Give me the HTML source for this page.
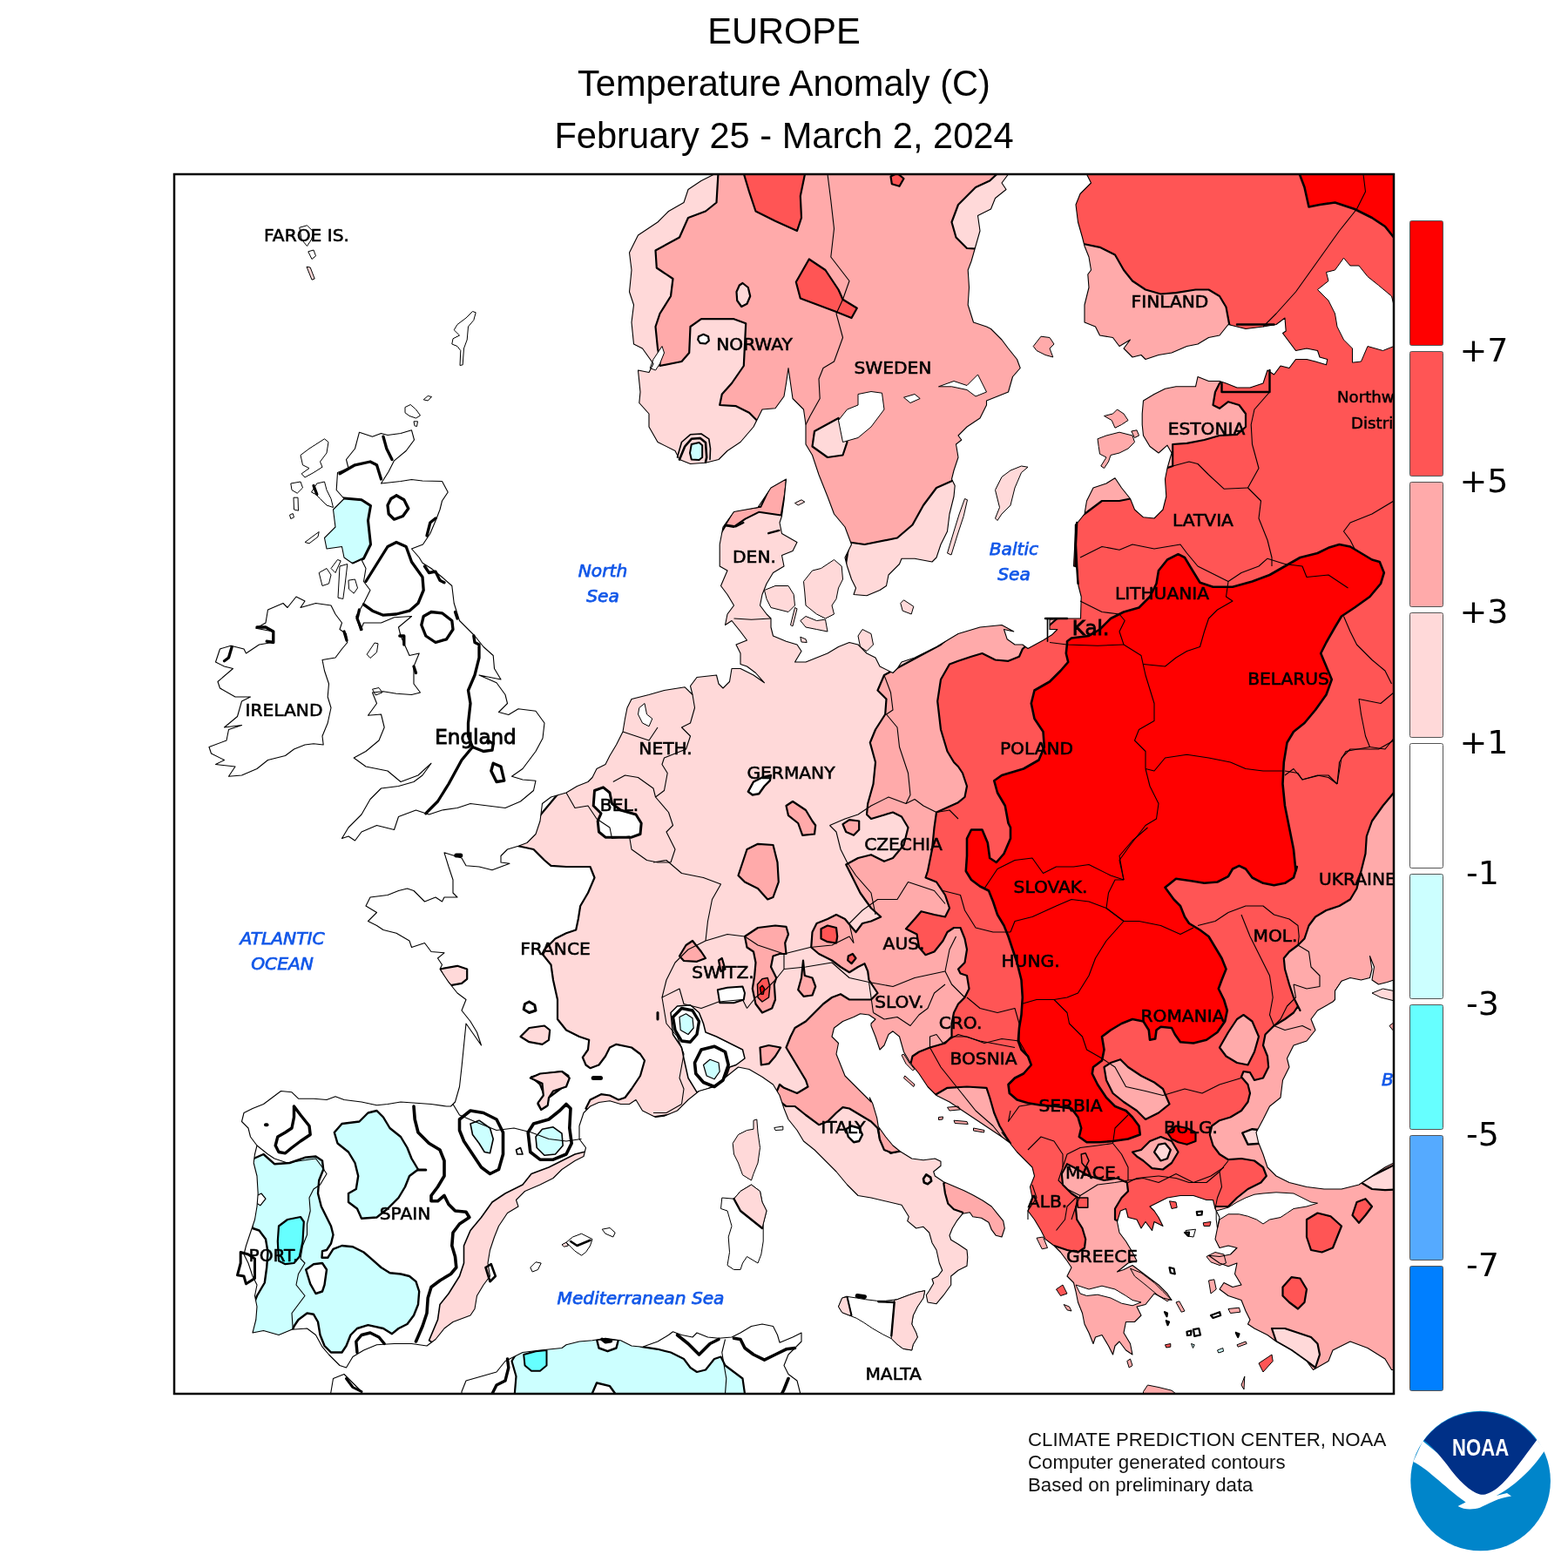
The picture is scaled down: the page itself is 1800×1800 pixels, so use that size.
<!DOCTYPE html>
<html lang="en"><head><meta charset="utf-8"><title>EUROPE Temperature Anomaly (C)</title>
<style>
html,body{margin:0;padding:0;background:#fff}
body{width:1800px;height:1800px;overflow:hidden;position:relative;font-family:"Liberation Sans",sans-serif}
svg{position:absolute;left:0;top:0;display:block}
.t{font-family:"Liberation Sans",sans-serif;font-size:41.6px;fill:#000;text-anchor:middle}
.lg{font-family:"DejaVu Sans","Liberation Sans",sans-serif;font-size:38px;fill:#000}
.c{font-family:"DejaVu Sans","Liberation Sans",sans-serif;font-size:20.2px;fill:#000;stroke:#000;stroke-width:0.6px;text-anchor:middle}
.e{font-family:"DejaVu Sans","Liberation Sans",sans-serif;font-size:23px;fill:#000;stroke:#000;stroke-width:0.9px;text-anchor:middle}
.s{font-family:"DejaVu Sans","Liberation Sans",sans-serif;font-style:italic;font-size:20.2px;fill:#1257e8;stroke:#1257e8;stroke-width:0.75px;text-anchor:middle}
.d{font-family:"DejaVu Sans","Liberation Sans",sans-serif;font-size:18.2px;fill:#000;stroke:#000;stroke-width:0.5px;text-anchor:middle}
.l{text-anchor:start}
.f{font-family:"Liberation Sans",sans-serif;font-size:22.25px;fill:#111}
.n{font-family:"Liberation Sans",sans-serif;font-weight:bold;font-size:28px;fill:#fff;text-anchor:middle}
</style></head><body>
<svg width="1800" height="1800" viewBox="0 0 1800 1800">
<rect width="1800" height="1800" fill="#fff"/>

<defs><clipPath id="fr"><rect x="200" y="200" width="1400" height="1400"/></clipPath>
<clipPath id="ld" clip-rule="nonzero">
<path d="M412.5,496.2 427.5,501.2 437.5,497.5 445,499.5 460,497.5 472.5,493.8 475.5,505 466.2,517.5 452.5,528.8 446.2,541.2 437.5,555 460,552.5 472.5,550.5 485,552 507.5,552.5 514.2,565 507.5,575 505,585 501.2,595 493.8,612.5 485.5,625 472.5,630 481.2,640 485,646.2 495,652.5 507.5,662.5 518.8,672.5 521.2,692.5 527.5,712.5 545,730 555,742.5 566.2,752.5 567.5,767.5 575,780 550,775 570,783.8 580,797.5 582.5,807.5 572.5,817.5 583.8,820.5 595,813.8 615,816.2 625,830 623,847.5 615,862.5 607.5,872.5 600,882.5 587.5,891.2 600,895 615,896.2 612.5,907.5 597.5,920 580,927.5 560,925 540,922.5 525,927.5 507.5,930 492.5,935 477.5,930 457.5,937.5 452.5,952.5 432.5,947.5 415,955 407.5,965 400,960 392.5,962.5 400,950 415,935 425,917.5 437.5,905 457.5,902.5 475,897.5 485,890 495,876.2 480,890 460,897.5 445,885 420,880 406.2,870 420,862.5 435,850 441.2,835 437.5,820 422.5,821.2 432.5,807.5 427.5,795 440,793.8 455,796.2 472.5,797.5 482.5,795 475,785 475,765 481.2,750 470,752.5 460,730 457.5,720 472.5,707.5 452.5,708.8 437.5,715 417.5,715 413.8,723.8 408.8,707.5 417.5,692.5 425,677.5 417.5,667.5 420,652.5 415,642.5 405,647 395,640 392.5,627.5 375,630 372.5,617.5 385,605 382.5,585 395,572.5 386.2,562.5 387.5,542.5 400,537.5 397.5,527.5 407.5,515Z"/>
<path d="M340,685 350,690 345,697.5 362.5,692.5 380,695 385,705 392.5,715 390,722.5 397.5,727.5 398.8,737.5 392.5,745 385,755 370,757.5 372.5,770 377.5,785 376.2,800 380,812.5 376.2,830 370,845 371.2,855 360,853.8 350,855 337.5,860 327.5,867.5 307.5,872.5 295,882.5 277.5,890 262.5,891.2 270,880 247.5,877.5 257.5,872.5 242.5,865 240,857.5 260,850 262.5,837.5 277.5,832.5 257.5,835 272.5,822.5 277.5,805 287.5,800 270,800 252.5,790 250,782.5 267.5,767.5 257.5,765 247.5,760 252.5,745 265,741.2 280,745 282.5,750 297.5,740 312.5,737.5 313.8,725 293.8,721.2 305,715 307.5,700 325,692.5 330,697.5Z"/>
<path d="M820,190 820,200 805,207.5 790,217.5 785,232.5 767.5,242.5 755,255 732.5,270 722.5,290 725,310 722.5,335 727.5,350 725,370 727.5,395 737.5,400 750,417.5 745,427.5 732.5,425 735,450 733.8,462.5 745,475 745,490 755,507.5 775,517.5 780,527.5 792.5,532.5 810,531.2 825,527.5 835,517.5 850,507.5 865,490 875,470 890,468.8 900,455 902.5,440 905,422.5 907.5,440 910,457.5 922.5,470 925,487.5 925,510 932.5,522.5 940,545 950,570 957.5,590 970,605 977.5,625 970,640 972.5,650 977.5,665 982.5,675 980,682.5 995,683.8 1010,677.5 1017.5,672.5 1020,660 1032.5,647.5 1035,641.2 1050,641.2 1070,645 1075,640 1080,625 1087.5,610 1090,590 1095,570 1096.2,557.5 1092.5,550 1095,540 1100,525 1097.5,510 1103.8,505 1100,500 1110,490 1125,480 1132.5,465 1132.5,460 1145,455 1157.5,450 1162.5,432.5 1171.2,422.5 1167.5,412.5 1157.5,400 1150,390 1137.5,377.5 1132.5,375 1117.5,370 1111.2,350 1112.5,330 1111.2,310 1115,300 1120,282.5 1125,265 1122.5,247.5 1137.5,240 1142.5,227.5 1155,217.5 1150,210 1157.5,200 1157,190Z"/>
<path d="M1247,190 1247.5,200 1252.5,210 1240,222.5 1235,235 1237.5,255 1242.5,272.5 1245,282.5 1250,295 1252.5,310 1248.8,315 1250,330 1245,350 1245,370 1257.5,375 1262.5,385 1277.5,387.5 1285,397.5 1297.5,390 1290,400 1300,410 1310,407.5 1315,412.5 1330,407.5 1345,405 1362.5,397.5 1375,395 1387.5,387.5 1400,385 1410,372.5 1420,375 1430,377.5 1450,375 1465,372.5 1475,365 1476.2,380 1472.5,382.5 1480,392.5 1487.5,402.5 1500,400 1512.5,402.5 1515,410 1523.8,412.5 1522.5,418.8 1510,415 1500,412.5 1487.5,412.5 1480,422.5 1470,420 1462.5,430 1455,425 1450,440 1435,445 1420,445 1407.5,440 1400,437.5 1387.5,437.5 1375,432.5 1372.5,443.8 1350,443.8 1337.5,446.2 1325,452.5 1312.5,460 1311.2,475 1311.2,487.5 1312.5,500 1320,512.5 1330,520 1340,511.2 1345,520 1340,537.5 1337.5,550 1338.8,570 1335,585 1325,595 1312.5,593.8 1302.5,585 1297.5,572.5 1287.5,560 1280,548.8 1270,555 1255,560 1247.5,575 1245,590 1235,602.5 1233.8,625 1232.5,650 1236.2,650 1238,672.5 1241.2,685 1240.5,710 1225,710 1205,711.2 1205,722.5 1213.8,722.5 1207.5,728.8 1197.5,735 1180,744.5 1173.8,740 1165,740 1156.2,733.8 1152.5,722.5 1163.8,725 1150,717.5 1125,720 1100,727.5 1087.5,735 1075,742.5 1050,755 1035,760 1030,767.5 1025,772.5 1010,765 1005,755 995,750 985,740 975,737.5 962.5,742.5 950,750 937.5,755 925,760 912.5,760 920,747.5 915,740 902.5,736.2 887.5,730 885,720 885,710 880,705 872.5,695 875,682.5 880,670 887.5,657.5 900,650 897.5,637.5 910,632.5 915,622.5 897.5,612.5 895,600 897.5,592.5 900,575 902.5,550 885,560 870,582.5 842.5,587.5 830,605 826.2,625 826.2,650 835,655 827.5,672.5 835,682.5 842.5,695 835,705 832.5,717.5 840,712.5 850,725 857.5,735 845,740 850,750 850,762.5 857.5,765 867.5,772.5 877.5,783.8 865,775 850,767.5 840,767.5 837.5,782.5 830,790 825,785 822.5,775 800,777.5 792.5,787.5 795,797.5 786.2,788.8 762.5,792.5 745,797.5 725,802.5 720,812.5 717.5,825 715,840 707.5,855 700,867.5 695,877.5 685,882.5 680,892.5 675,897.5 662.5,902.5 650,910 632.5,915 622.5,922.5 620,942.5 615,957.5 605,967.5 595,971.2 582.5,975 575,982.5 575,990 585,991.2 565,998.8 550,995 535,993.8 530,985 510,978.8 515,995 520,1010 520,1025 525,1030 510,1030 507.5,1035 500,1030 487.5,1035 475,1022.5 467.5,1020 457.5,1022.5 445,1027.5 425,1030 420,1040 432.5,1047.5 422.5,1057.5 432.5,1062.5 440,1067.5 455,1071.2 470,1080 472.5,1087.5 487.5,1082.5 495,1092.5 510,1093.8 502.5,1100 507.5,1107.5 505,1112.5 515,1127.5 525,1140 535,1147.5 530,1160 540,1172.5 547.5,1185 552.5,1200 535,1175 532.5,1200 530,1225 527.5,1247.5 522.5,1265 517.5,1270 512.5,1270 495,1267.5 477.5,1266.2 460,1265 445,1267.5 432.5,1268.8 415,1265 395,1262.5 385,1258.8 375,1262.5 360,1261.2 342.5,1261.2 335,1253.8 322.5,1252.5 312.5,1260 302.5,1267.5 290,1272.5 280,1277.5 277.5,1287.5 285,1295 287.5,1305 295,1315 292.5,1325 291.2,1335 295,1350 296.2,1370 295,1385 292.5,1400 287.5,1415 282.5,1430 280,1440 285,1450 290,1465 295,1475 292.5,1487.5 295,1500 293.8,1515 290,1530 302.5,1527.5 320,1532.5 335,1526.2 352.5,1525 362.5,1532.5 370,1546.2 377.5,1555 390,1567.5 397.5,1570 405,1557.5 417.5,1550 432.5,1543.8 452.5,1542.5 472.5,1542.5 490,1545 500,1537.5 510,1525 520,1517.5 540,1510 545,1502.5 547.5,1487.5 555,1475 562.5,1465 560,1450 562.5,1435 567.5,1420 572.5,1407.5 582.5,1392.5 595,1385 592.5,1377.5 602.5,1367.5 620,1360 635,1352.5 645,1342.5 660,1332.5 670,1327.5 672.5,1317.5 665,1307.5 665,1292.5 670,1277.5 677.5,1270 687.5,1265.5 700,1263.8 712.5,1267.5 722.5,1267.5 730,1262.5 737.5,1275 752.5,1282.5 762.5,1281.2 777.5,1275 790,1262.5 802.5,1252.5 820,1247.5 835,1235 847.5,1225 860,1227.5 875,1236.2 887.5,1245 895,1257.5 900,1272.5 905,1285 915,1297.5 922.5,1310 935,1320 947.5,1332.5 960,1345 972.5,1360 985,1372.5 1000,1375 1035,1383.3 1043.3,1396.7 1041.7,1401.7 1051.7,1410 1060,1408.3 1066.7,1415 1070,1426.7 1075,1435 1078.3,1450 1081.7,1458.3 1076.7,1465 1070,1468.3 1071.7,1473.3 1066.7,1481.7 1063.3,1486.7 1065,1495 1075,1496.7 1083.3,1486.7 1091.7,1475 1091.7,1465 1100,1458.3 1110,1453.3 1110.8,1443.3 1110,1435 1100,1428.3 1091.7,1423.3 1090,1418.3 1093.3,1410 1098.3,1401.7 1105,1393.3 1113.3,1391.7 1116.7,1396.7 1126.7,1398.3 1135,1403.3 1138.3,1411.7 1143.3,1418.3 1150,1420 1153.3,1410 1151.7,1401.7 1145,1393.3 1138.3,1385 1128.3,1378.3 1116.7,1371.7 1106.7,1366.7 1095,1361.7 1083.3,1356.7 1073.3,1350 1071.7,1345 1080,1338.3 1080,1333.3 1073.3,1330 1060,1331.7 1046.7,1330 1033.3,1321.7 1025,1315 1016.7,1305 1008.3,1293.3 1006.7,1283.3 1001.7,1266.7 998.3,1260 1000,1265 990,1255 980,1245 970,1235 965,1222.5 960,1210 962.5,1197.5 955,1190 957.5,1180 967.5,1172.5 980,1167.5 987.5,1163.8 997.5,1165 1005,1170 1000,1175 1000,1177.5 1005,1190 1010,1205 1015,1200 1020,1187.5 1025,1183.8 1032.5,1190 1037.5,1207.5 1045,1220 1055,1232.5 1065,1247.5 1075,1257.5 1090,1265 1105,1275 1120,1285 1135,1295 1150,1305 1160,1312.5 1150,1300 1157.5,1310 1167.5,1322.5 1177.5,1332.5 1185,1340 1187.5,1350 1182.5,1362.5 1185,1375 1180,1390 1187.5,1400 1195,1412.5 1200,1422.5 1210,1430 1217.5,1437.5 1225,1447.5 1230,1455 1225,1465 1232.5,1472.5 1235,1482.5 1237.5,1495 1242.5,1507.5 1245,1520 1250,1530 1255,1542.5 1257.5,1535 1265,1532.5 1272.5,1545 1277.5,1555 1280,1545 1285,1540 1292.5,1550 1300,1555 1297.5,1542.5 1290,1530 1292.5,1517.5 1302.5,1517.5 1310,1510 1305,1500 1315,1497.5 1325,1485 1335,1490 1345,1492.5 1340,1485 1330,1475 1320,1467.5 1310,1460 1300,1452.5 1290,1457.5 1282.5,1460 1295,1450 1305,1447.5 1300,1437.5 1292.5,1425 1285,1415 1282.5,1402.5 1286.2,1390 1292.5,1387.5 1295,1397.5 1305,1400 1310,1410 1315,1402.5 1322.5,1412.5 1325,1402.5 1335,1407.5 1330,1397.5 1325,1390 1320,1385 1330,1380 1340,1375 1355,1372.5 1370,1372.5 1385,1377.5 1392.5,1377.5 1395,1387.5 1400,1397.5 1397.5,1410 1395,1422.5 1400,1432.5 1410,1430 1420,1432.5 1412.5,1440 1400,1442.5 1387.5,1441.2 1400,1450 1410,1453.8 1420,1450 1417.5,1462.5 1425,1475 1415,1477.5 1405,1472.5 1400,1480 1410,1487.5 1425,1492.5 1430,1505 1435,1515 1432.5,1520 1440,1525 1455,1532.5 1465,1540 1482.5,1550 1500,1562.5 1507.5,1572.5 1525,1562.5 1530,1550 1550,1540 1570,1547.5 1590,1560 1597.5,1572.5 1612.5,1572.5 1612.5,1335 1600,1335 1590,1340 1575,1350 1560,1360 1540,1365 1520,1365 1500,1362.5 1480,1357.5 1465,1350 1455,1340 1450,1325 1444.5,1311.2 1442,1300 1450,1285 1457.5,1270 1470,1260 1472.5,1240 1480,1225 1477.5,1215 1485,1200 1500,1195 1510,1182.5 1505,1170 1512.5,1160 1530,1150 1532.5,1147.5 1532.5,1137.5 1540,1126.2 1550,1122.5 1562.5,1125 1572.5,1122.5 1575,1112.5 1572.5,1097.5 1577.5,1110 1575,1125 1582.5,1130 1592.5,1127.5 1600,1125 1610,1125 1610,190Z"/>
<path d="M377.5,1610 380,1597.5 382.5,1582.5 395,1577.5 402.5,1585 415,1597.5 420,1610Z"/>
<path d="M530,1610 530,1597.5 535,1585 552.5,1580 570,1575 580,1562.5 600,1552.5 620,1550 645,1547.5 650,1543.8 665,1540 680,1538.8 695,1536.2 712.5,1538.8 725,1545 737.5,1546.2 755,1540 767.5,1532.5 772.5,1528.8 782.5,1532.5 795,1535 800,1530 812.5,1535 825,1536.2 840,1535 850,1530 862.5,1522.5 875,1520 887.5,1522.5 892.5,1532.5 895,1541.2 910,1535 920,1530 920,1540 912.5,1547.5 905,1555 900,1567.5 905,1577.5 915,1585 918.8,1600 918.8,1610Z"/>
</clipPath></defs>
<g clip-path="url(#fr)">
<g clip-path="url(#ld)">
<path d="M370,570 395,572 415,573.8 425.5,580.5 422.5,597.5 425.5,625 417.5,641.2 405,647 370,650Z" fill="#ccffff" stroke="#000" stroke-width="3" stroke-linejoin="round"/>
<path d="M595,971.2 612.5,975 625,987.5 632.5,993.8 650,995 677.5,995 682.5,1007.5 675,1025 666.2,1040 663.8,1055 661.2,1067.5 650,1071.2 637.5,1077.5 625,1090 622.5,1095 632.5,1107.5 635,1125 640,1147.5 640,1170 650,1182.5 665,1190 676.2,1193.8 675,1205 668.8,1213.8 672.5,1222.5 677.5,1226.2 687.5,1222.5 695,1212.5 700,1202.5 707.5,1198.8 725,1202.5 735,1210 740,1217.5 735,1235 725,1250 717.5,1260 710,1262.5 700,1257.5 690,1256.2 677.5,1262.5 672.5,1272.5 700,1290 800,1275 860,1262 890,1290 950,1430 1070,1560 1080,1610 1610,1610 1610,190 1200,190 1190,420 1200,600 1140,690 1080,700 1000,690 960,690 975,640 930,570 905,540 860,560 810,640 800,760 740,780 690,850 650,900 600,960Z" fill="#ffd9d9" stroke="#000" stroke-width="2.2" stroke-linejoin="round"/>
<path d="M1015,775 1007.5,792.5 1017.5,802.5 1016.2,820 1005,837.5 998.8,852.5 1005,875 1002.5,900 996.2,922.5 995,935 1000,940 1012.5,936.2 1025,932.5 1035,937.5 1042.5,950 1037.5,970 1025,985 1015,988.8 1000,981.2 985,985 971.2,992.5 977.5,1005 987.5,1025 1000,1042.5 1011.2,1052.5 1000,1057.5 990,1060 982.5,1070 976.2,1062.5 970,1055 960,1050 950,1055 937.5,1060 932.5,1070 931.2,1087.5 940,1095 955,1102.5 965,1110 975,1116.2 985,1110 992.5,1106.2 996.2,1115 997.5,1125 1002.5,1132.5 1007.5,1140 1000,1147.5 987.5,1147.5 975,1147.5 965,1141.2 955,1145 945,1152.5 935,1162.5 925,1172.5 912.5,1180 907.5,1190 902.5,1202.5 910,1215 917.5,1227.5 925,1240 927.5,1247.5 915,1255 900,1248.8 895,1245 888.8,1260 902.5,1270 912.5,1270 925,1280 940,1291.2 950,1287.5 960,1277.5 967.5,1271.2 975,1272.5 987.5,1280 1000,1287.5 1007.5,1295 1010,1307.5 1015,1317.5 1022.5,1323.8 1032.5,1321.2 1050,1310 1085,1328 1096,1350 1083.3,1358.3 1085,1370 1088.3,1381.7 1095,1388.3 1105,1391.7 1110,1420 1130,1460 1150,1610 1610,1610 1610,190 1200,190 1190,420 1200,600 1140,690 1080,740Z" fill="#ffaaaa" stroke="#000" stroke-width="2.2" stroke-linejoin="round"/>
<path d="M1173.8,745 1170,753.8 1157.5,758.8 1142.5,757.5 1127.5,750 1115,753.8 1100,758.8 1090,762.5 1080,780 1076.2,805 1080,837.5 1087.5,862.5 1095,875 1100,880 1105,887.5 1110,902.5 1107.5,915 1100,921.2 1075,932.5 1072.5,950 1070,975 1065,1000 1062.5,1007.5 1075,1012.5 1085,1027.5 1090,1042.5 1085,1052.5 1072.5,1050 1057.5,1046.2 1050,1055 1040,1066.2 1052.5,1072.5 1055,1087.5 1062.5,1096.2 1072.5,1092.5 1082.5,1080 1087.5,1070 1095,1065 1102.5,1065 1107.5,1077.5 1110,1090 1107.5,1105 1100,1112.5 1102.5,1117.5 1110,1120 1112.5,1135 1107.5,1145 1100,1152.5 1095,1162.5 1092.5,1175 1092.5,1190 1085,1197.5 1067.5,1202.5 1055,1207.5 1047.5,1212.5 1043.8,1227.5 1061.2,1256.2 1072.5,1257.5 1087.5,1248.8 1110,1247.5 1132.5,1248.8 1136.2,1260 1141.2,1277.5 1147.5,1292.5 1155,1305 1160,1312.5 1142.5,1310 1162.5,1330 1173.8,1350 1171.2,1375 1171.2,1392.5 1182.5,1415 1198.8,1431.2 1208.8,1432 1210,1430 1225,1435 1237.5,1437.5 1245,1432.5 1246.2,1422.5 1242.5,1410 1236.2,1400 1235,1387.5 1237.5,1375 1230,1370 1220,1360 1218.8,1347.5 1225,1336.2 1232.5,1340 1250,1350 1267.5,1355 1282.5,1352.5 1293.8,1357.5 1295,1367.5 1287.5,1375 1280,1387.5 1280,1400 1285,1402.5 1300,1422.5 1340,1417.5 1350,1390 1375,1382.5 1393.8,1390 1395,1385 1410,1385 1420,1375 1432.5,1365 1447.5,1357.5 1453.8,1350 1450,1340 1440,1332.5 1425,1330 1410,1331.2 1400,1325 1392.5,1315 1388.8,1302.5 1391.2,1292.5 1400,1286.2 1412.5,1282.5 1425,1275 1432.5,1265 1435,1255 1432.5,1245 1425,1236.2 1427.5,1230 1435,1231.2 1440,1240 1450,1237.5 1456.2,1225 1455,1212.5 1450,1200 1452.5,1187.5 1462.5,1177.5 1475,1170 1485,1162.5 1490,1155 1487.5,1150 1492.5,1160 1485,1145 1480,1130 1475,1112.5 1473.8,1100 1480,1092.5 1490,1085 1497.5,1077.5 1502.5,1062.5 1510,1052.5 1522.5,1045 1537.5,1040 1550,1032.5 1557.5,1020 1562.5,1000 1567.5,980 1568.8,960 1575,942.5 1587.5,925 1600,910 1610,900 1610,890 1610,190 1240,190 1230,200 1225,250 1235,280 1243.8,280 1262.5,283.8 1280,292.5 1290,310 1300,322.5 1315,332.5 1332.5,337.5 1350,336.2 1372.5,332.5 1387.5,332.5 1400,340 1407.5,352.5 1411.2,372.5 1425,400 1415,425 1400,440 1395,450 1392.5,465 1400,468.8 1410,461.2 1422.5,465 1430,475 1430,490 1420,498.8 1400,500 1382.5,505 1362.5,508.8 1346.2,510 1346.2,535 1338.8,537.5 1325,550 1310,567.5 1297.5,572.5 1285,575 1265,575 1245,590 1225,600 1225,700Z" fill="#ff5555" stroke="#000" stroke-width="2.2" stroke-linejoin="round"/>
<path d="M1225,736.2 1230,732.5 1250,730 1262.5,722.5 1275,710 1290,702.5 1307.5,697.5 1320,685 1327.5,670 1330,655 1340,642.5 1352.5,636.2 1360,640 1367.5,652.5 1377.5,668.8 1392.5,673.8 1415,673.8 1437.5,667.5 1457.5,660 1475,650 1492.5,640 1512.5,635 1525,628.8 1537.5,625 1550,627.5 1562.5,635 1575,642.5 1583.8,645 1588.8,657.5 1585,670 1572.5,685 1555,697.5 1540,707.5 1532.5,720 1522.5,737.5 1516.2,750 1522.5,765 1528.8,780 1522.5,797.5 1510,815 1497.5,830 1485,840 1477.5,852.5 1473.8,875 1472.5,900 1475,925 1480,950 1485,975 1487.5,1000 1488.8,995 1485,1007.5 1475,1013.8 1462.5,1016.2 1450,1013.8 1437.5,1007.5 1430,997.5 1422.5,993.8 1415,997.5 1410,1006.2 1397.5,1012.5 1382.5,1013.8 1367.5,1011.2 1350,1008.8 1337.5,1018.8 1347.5,1032.5 1355,1040 1360,1052.5 1365,1060 1377.5,1067.5 1387.5,1075 1395,1087.5 1402.5,1100 1407.5,1112.5 1402.5,1125 1398.8,1135 1405,1147.5 1408.8,1160 1406.2,1172.5 1397.5,1185 1385,1193.8 1370,1197.5 1355,1196.2 1348.8,1187.5 1345,1180 1332.5,1178.8 1327.5,1182.5 1326.2,1192.5 1320,1193.8 1318.8,1182.5 1312.5,1172.5 1300,1170 1287.5,1175 1275,1182.5 1265,1190 1267.5,1205 1265,1217.5 1255,1225 1253.8,1232.5 1260,1245 1270,1260 1280,1270 1292.5,1275 1300,1282.5 1307.5,1292.5 1308.8,1302.5 1295,1307.5 1277.5,1310 1262.5,1311.2 1247.5,1311.2 1238.8,1305 1241.2,1295 1237.5,1282.5 1230,1272.5 1212.5,1270 1195,1268.8 1180,1266.2 1167.5,1262.5 1158.8,1255 1157.5,1245 1165,1237.5 1175,1232.5 1183.8,1222.5 1180,1212.5 1172.5,1205 1168.8,1195 1170,1180 1172.5,1165 1173.8,1145 1172.5,1125 1167.5,1105 1162.5,1090 1157.5,1075 1152.5,1062.5 1145,1050 1140,1035 1135,1022.5 1125,1017.5 1115,1010 1108.8,1000 1110,982.5 1110,962.5 1115,952.5 1127.5,952.5 1133.8,967.5 1136.2,985 1143.8,990 1152.5,980 1160,962.5 1160,950 1157.5,945 1153.8,925 1145,910 1141.2,896.2 1150,890 1175,882.5 1192.5,872.5 1198.8,857.5 1197.5,840 1187.5,825 1183.8,807.5 1187.5,792.5 1205,782.5 1217.5,770 1226.2,760 1223.8,750 1225,738.8Z" fill="#ff0000" stroke="#000" stroke-width="2.6" stroke-linejoin="round"/>
<path d="M1490,195 1497.5,215 1502.5,237.5 1515,235 1532.5,232.5 1555,240 1575,250 1590,260 1600,272.5 1612.5,272.5 1612.5,195Z" fill="#ff0000" stroke="#000" stroke-width="2.6" stroke-linejoin="round"/>
<path d="M790,190 1170,190 1180,420 1120,560 1110,640 1060,700 960,700 975,640 925,560 900,520 780,540 700,480 710,300Z" fill="#ffaaaa" stroke="#000" stroke-width="0" stroke-linejoin="round"/>
<path d="M825,190 822.5,232.5 810,242.5 790,250 780,272.5 752.5,287.5 753.8,307.5 772.5,320 770,340 757.5,360 752.5,375 755,400 757.5,412.5 757.5,420 782.5,415 791.2,405 792.5,375 805,366.2 842.5,366.2 856.2,371.2 853.8,420 840,440 828.8,452.5 826.2,465 845,466.2 860,473.8 868.8,482.5 875,525 775,550 712.5,475 707.5,275 775,200Z" fill="#ffd9d9" stroke="#000" stroke-width="2.2" stroke-linejoin="round"/>
<path d="M975,622.5 992.5,625 1030,617.5 1047.5,602.5 1060,580 1075,560 1097.5,550 1125,545 1125,700 962.5,700Z" fill="#ffd9d9" stroke="#000" stroke-width="2.2" stroke-linejoin="round"/>
<path d="M1136.2,207.5 1120,215 1100,235 1092.5,255 1097.5,272.5 1110,285 1130,286.2 1155,225 1165,200 1155,190Z" fill="#ffd9d9" stroke="#000" stroke-width="2.2" stroke-linejoin="round"/>
<path d="M935,495 962.5,480 972.5,507.5 967.5,522.5 950,525 932.5,512.5Z" fill="#ffd9d9" stroke="#000" stroke-width="2.2" stroke-linejoin="round"/>
<path d="M852.5,195 925,195 918.8,225 920,250 915,265 890,253.8 867.5,242.5 860,220Z" fill="#ff5555" stroke="#000" stroke-width="2.2" stroke-linejoin="round"/>
<path d="M928.8,297.5 947.5,310 962.5,332.5 967.5,343.8 983.8,353.8 977.5,365 958.8,357.5 918.8,342.5 913.8,323.8Z" fill="#ff5555" stroke="#000" stroke-width="2.2" stroke-linejoin="round"/>
<path d="M1022.5,202.5 1030,198.8 1037.5,205 1032.5,213.8 1023.8,211.2Z" fill="#ff5555" stroke="#000" stroke-width="2.2" stroke-linejoin="round"/>
<path d="M852.5,325 858.8,330 861.2,340 857.5,348.8 851.2,352 846.2,345 845.5,335 848.8,327.5Z" fill="#ffd9d9" stroke="#000" stroke-width="2.2" stroke-linejoin="round"/>
<path d="M802,386.2 807.5,383.8 813,386.2 813.8,391.2 810,394.5 803.8,393.8 801.2,390Z" fill="#ffffff" stroke="#000" stroke-width="2.2" stroke-linejoin="round"/>
<path d="M793.8,510 802.5,508 806.2,511.2 806.2,525 802.5,528 793.8,527.5 792,520Z" fill="#ccffff" stroke="#000" stroke-width="2" stroke-linejoin="round"/>
<path d="M682.5,907.5 692.5,903.8 700,910 702.5,922.5 712.5,930 730,935 736.2,945 735,957.5 725,961.2 695,961.2 687.5,955 686.2,942.5 690,933.8 681.2,925Z" fill="#ffffff" stroke="#000" stroke-width="3" stroke-linejoin="round"/>
<path d="M858.8,908.8 865,897.5 875,892.5 885,890 883.8,896.2 877.5,902.5 871.2,911.2 863.8,912.5Z" fill="#ffffff" stroke="#000" stroke-width="2.4" stroke-linejoin="round"/>
<path d="M902.5,925 910,920 925,930 932.5,942.5 936.2,947.5 935,957.5 921.2,958.8 916.2,945 905,936.2Z" fill="#ffaaaa" stroke="#000" stroke-width="2.2" stroke-linejoin="round"/>
<path d="M847.5,1005 857.5,975 870,968.8 887.5,970 892.5,990 893.8,1012.5 887.5,1030 881.2,1032.5 870,1020 855,1012.5Z" fill="#ffaaaa" stroke="#000" stroke-width="2.2" stroke-linejoin="round"/>
<path d="M967.5,946.2 975,941.2 986.2,942.5 986.2,952.5 980,958.8 971.2,955Z" fill="#ffaaaa" stroke="#000" stroke-width="2.2" stroke-linejoin="round"/>
<path d="M505,1112.5 525,1108.8 536.2,1112.5 536.2,1123.8 530,1128.8 517.5,1131.2 510,1122.5Z" fill="#ffd9d9" stroke="#000" stroke-width="2.2" stroke-linejoin="round"/>
<path d="M597.5,1190 607.5,1180 625,1177.5 631.2,1182.5 630,1193.8 622.5,1198.8 607.5,1196.2Z" fill="#ffd9d9" stroke="#000" stroke-width="2.2" stroke-linejoin="round"/>
<path d="M610,1236.2 625,1232.5 645,1230 652.5,1235 650,1245 640,1252.5 630,1260 627.5,1270 621.2,1273.8 617.5,1267.5 625,1257.5 620,1245Z" fill="#ffd9d9" stroke="#000" stroke-width="2.2" stroke-linejoin="round"/>
<path d="M608.8,1237.5 620,1232.5 645,1230 653.8,1237.5 650,1247.5 635,1252.5 630,1260 628.8,1268.8 621.2,1273.8 617.5,1266.2 623.8,1257.5 622.5,1243.8Z" fill="#ffd9d9" stroke="#000" stroke-width="2.2" stroke-linejoin="round"/>
<path d="M780,1097.5 787.5,1085 795,1080 805,1092.5 810,1100 800,1103.8 785,1103Z" fill="#ffaaaa" stroke="#000" stroke-width="2.2" stroke-linejoin="round"/>
<path d="M825,1102.5 828.8,1100 832.5,1112.5 827.5,1115Z" fill="#ffaaaa" stroke="#000" stroke-width="2.2" stroke-linejoin="round"/>
<path d="M855,1075 870,1065 890,1062.5 902.5,1063.8 905,1072.5 901.2,1082.5 902.5,1095 895,1095 887.5,1097.5 885,1110 891.2,1122.5 888.8,1130 890,1147.5 886.2,1157.5 875,1162.5 867.5,1152.5 863.8,1135 866.2,1120 867.5,1105 865,1092.5 857.5,1087.5Z" fill="#ffaaaa" stroke="#000" stroke-width="2.2" stroke-linejoin="round"/>
<path d="M869.5,1130 875,1123.8 881.2,1122.5 883.8,1132.5 882.5,1145 875,1150 870,1145Z" fill="#ff5555" stroke="#000" stroke-width="1.5" stroke-linejoin="round"/>
<path d="M872.5,1133.8 875,1131.2 877.5,1135 876.2,1141.2 873.8,1141.2Z" fill="#ff0000" stroke="#000" stroke-width="1.5" stroke-linejoin="round"/>
<path d="M942.5,1066.2 950,1062.5 960,1065 961.2,1075 960,1082.5 950,1081.2 942.5,1077.5Z" fill="#ff5555" stroke="#000" stroke-width="2.2" stroke-linejoin="round"/>
<path d="M973.8,1097.5 978.8,1095 982.5,1100 977.5,1106.2 973.2,1102.5Z" fill="#ff5555" stroke="#000" stroke-width="2.2" stroke-linejoin="round"/>
<path d="M916.2,1136.2 920,1122.5 922,1102.5 923.8,1120 932.5,1122.5 936.2,1132.5 932.5,1142.5 922.5,1143.8Z" fill="#ffaaaa" stroke="#000" stroke-width="2.2" stroke-linejoin="round"/>
<path d="M872.5,1202.5 882.5,1200 896.2,1202.5 890,1212.5 882.5,1221.2 873.8,1222.5Z" fill="#ffaaaa" stroke="#000" stroke-width="2.2" stroke-linejoin="round"/>
<path d="M823.8,1136.2 835,1133.8 852.5,1132.5 855,1140 853.8,1147.5 842.5,1151.2 826.2,1151.2Z" fill="#ffffff" stroke="#000" stroke-width="2" stroke-linejoin="round"/>
<path d="M770,1162.5 777.5,1155 792.5,1153.8 802.5,1162.5 807.5,1175 810,1185 822.5,1190 837.5,1197.5 852.5,1205 855,1215 845,1222.5 837.5,1225 832.5,1240 812.5,1250 800,1253.8 790,1237.5 785,1215 782.5,1202.5 772.5,1187.5Z" fill="#ffffff" stroke="#000" stroke-width="1.5" stroke-linejoin="round"/>
<path d="M780,1167.5 787.5,1163.8 795,1168.8 796.2,1180 790,1187.5 781.2,1182.5Z" fill="#ccffff" stroke="#000" stroke-width="1.2" stroke-linejoin="round"/>
<path d="M807.5,1222.5 815,1216.2 825,1220 826.2,1230 820,1238.8 811.2,1235Z" fill="#ccffff" stroke="#000" stroke-width="1.2" stroke-linejoin="round"/>
<path d="M971.2,1296.2 977.5,1292.5 986.2,1295 990,1302.5 986.2,1310 980,1311.2 973.8,1305Z" fill="#ffffff" stroke="#000" stroke-width="2.4" stroke-linejoin="round"/>
<path d="M1008.3,1296.7 1010,1308.3 1015,1320 1023.3,1323.3 1033.3,1321.7 1036.7,1313.3 1016.7,1291.7Z" fill="#ffaaaa" stroke="#000" stroke-width="2.2" stroke-linejoin="round"/>
<path d="M1400,1202.5 1410,1185 1420,1170 1427.5,1165 1437.5,1172.5 1445,1190 1440,1207.5 1432.5,1222.5 1420,1220 1407.5,1212.5Z" fill="#ffaaaa" stroke="#000" stroke-width="2.2" stroke-linejoin="round"/>
<path d="M1267.5,1225 1275,1220 1286.2,1216.2 1295,1225 1310,1235 1325,1242.5 1335,1250 1342.5,1267.5 1330,1277.5 1315,1285 1305,1275 1290,1265 1277.5,1255 1270,1240Z" fill="#ffaaaa" stroke="#000" stroke-width="2.2" stroke-linejoin="round"/>
<path d="M1300,1322.5 1310,1320 1320,1310 1332.5,1305 1345,1310 1352.5,1322.5 1345,1335 1335,1342.5 1322.5,1341.2 1312.5,1332.5 1305,1327.5Z" fill="#ffaaaa" stroke="#000" stroke-width="2.2" stroke-linejoin="round"/>
<path d="M1325,1322.5 1330,1313.8 1337.5,1312.5 1343.8,1320 1340,1330 1332.5,1332.5Z" fill="#ffd9d9" stroke="#000" stroke-width="2.2" stroke-linejoin="round"/>
<path d="M1340,1300 1350,1292.5 1362.5,1295 1372.5,1300 1372.5,1310 1362.5,1313.8 1352.5,1311.2 1345,1307.5Z" fill="#ff0000" stroke="#000" stroke-width="2.2" stroke-linejoin="round"/>
<path d="M1236.2,1375 1248.8,1375 1248.8,1386.2 1237.5,1386.2Z" fill="#ff5555" stroke="#000" stroke-width="1.5" stroke-linejoin="round"/>
<path d="M1241.2,1325 1246.2,1323.8 1250,1332.5 1246.2,1340 1242,1335Z" fill="#ff5555" stroke="#000" stroke-width="1.5" stroke-linejoin="round"/>
<path d="M1426.2,1300.5 1437.5,1296.2 1450,1297.5 1450,1312.5 1432.5,1313.8Z" fill="#ffd9d9" stroke="#000" stroke-width="2.4" stroke-linejoin="round"/>
<path d="M1500,1400 1512.5,1392.5 1527.5,1396.2 1540,1407.5 1535,1420 1530,1432.5 1517.5,1437.5 1505,1435 1500,1420Z" fill="#ff5555" stroke="#000" stroke-width="2.2" stroke-linejoin="round"/>
<path d="M1472.5,1477.5 1482.5,1466.2 1492.5,1467.5 1500,1480 1497.5,1495 1490,1502.5 1480,1495 1472.5,1487.5Z" fill="#ff5555" stroke="#000" stroke-width="2.2" stroke-linejoin="round"/>
<path d="M1552.5,1395 1557.5,1380 1567.5,1376.2 1575,1385 1567.5,1395 1560,1403.8Z" fill="#ff5555" stroke="#000" stroke-width="2.2" stroke-linejoin="round"/>
<path d="M1460,1525 1475,1525 1490,1530 1505,1535 1512.5,1542.5 1515,1555 1510,1570 1500,1562.5 1482.5,1550 1465,1540Z" fill="#ffd9d9" stroke="#000" stroke-width="2.2" stroke-linejoin="round"/>
<path d="M1562.5,1357.5 1575,1350 1590,1342.5 1600,1337.5 1612.5,1337.5 1612.5,1365 1590,1366.2 1575,1365Z" fill="#ffd9d9" stroke="#000" stroke-width="2.2" stroke-linejoin="round"/>
<path d="M1532.5,1137.5 1540,1126.2 1545,1127.5 1537.5,1140Z" fill="#ffd9d9" stroke="#000" stroke-width="1" stroke-linejoin="round"/>
<path d="M903.3,547.8 884.4,558.2 873.3,581.8 842.2,586.2 832.2,603.3 842.2,604.9 855.6,595.6 871.1,587.8 896.7,591.6 901.1,566.7Z" fill="#ffaaaa" stroke="#000" stroke-width="2" stroke-linejoin="round"/>
<path d="M287.5,1325 291.2,1330 302.5,1325 315,1336.2 332.5,1335 350,1328.8 362.5,1327.5 370,1332.5 371.2,1342.5 366.2,1355 365,1370 368.8,1385 375,1397.5 380,1407.5 382.5,1417.5 380,1427.5 375,1435 370,1436.2 369.5,1443.8 376.2,1443.8 382.5,1433.8 392.5,1430 405,1431.2 417.5,1437.5 427.5,1446.2 437.5,1455 447.5,1461.2 460,1462.5 470,1465 477.5,1471.2 481.2,1482.5 480,1497.5 475,1510 467.5,1520 457.5,1525 450,1531.2 440,1525 422.5,1521.2 410,1525 402.5,1532.5 397.5,1545 392.5,1552.5 380,1552.5 372.5,1545 367.5,1532.5 365,1517.5 360,1508.8 352.5,1507.5 342.5,1515 337.5,1522.5 336.2,1526.2 320,1537.5 285,1535 290,1500 295,1487.5 303.8,1472.5 306.2,1455 307.5,1437.5 305,1422.5 297.5,1412.5 290,1410 287.5,1400Z" fill="#ccffff" stroke="#000" stroke-width="2.4" stroke-linejoin="round"/>
<path d="M295,1372.5 300,1370 305,1376.2 298.8,1383.8 292.5,1380Z" fill="#ffffff" stroke="#000" stroke-width="1.2" stroke-linejoin="round"/>
<path d="M351.2,1457.5 360,1451.2 370,1450 375,1457.5 372.5,1475 370,1482.5 362.5,1485 356.2,1473.8Z" fill="#ffffff" stroke="#000" stroke-width="2.4" stroke-linejoin="round"/>
<path d="M320,1407.5 330,1400 345,1397 348.8,1402.5 347.5,1425 343.8,1442.5 337.5,1450 327.5,1451.2 320,1447.5 318.8,1425Z" fill="#66ffff" stroke="#000" stroke-width="2.2" stroke-linejoin="round"/>
<path d="M383.8,1300 392.5,1290 412.5,1287.5 422.5,1277.5 432.5,1275 440,1282.5 447.5,1295 460,1305 467.5,1317.5 472.5,1330 480,1342.5 470,1350 465,1362.5 457.5,1375 445,1387.5 432.5,1397.5 415,1398.8 410,1387.5 400,1380 400,1370 408.8,1365 411.2,1350 407.5,1335 400,1322.5 387.5,1312.5Z" fill="#ccffff" stroke="#000" stroke-width="2.4" stroke-linejoin="round"/>
<path d="M492.5,1538.8 502.5,1515 505,1497.5 515,1485 527.5,1465 532.5,1450 532.5,1430 540,1412.5 552.5,1397.5 565,1380 580,1370 600,1360 610,1347.5 630,1340 645,1332.5 660,1325 670,1322.5 695,1320 695,1375 570,1487.5 520,1555Z" fill="#ffd9d9" stroke="#000" stroke-width="1.6" stroke-linejoin="round"/>
<path d="M540,1290 550,1286.2 562.5,1295 566.2,1307.5 562.5,1323.8 556.2,1322.5 550,1312.5 542.5,1302.5Z" fill="#ccffff" stroke="#000" stroke-width="1.6" stroke-linejoin="round"/>
<path d="M615,1305 622.5,1296.2 635,1293.8 645,1301.2 646.2,1315 637.5,1325 625,1326.2 616.2,1317.5Z" fill="#ccffff" stroke="#000" stroke-width="1.6" stroke-linejoin="round"/>
<path d="M590,1610 592.5,1580 587.5,1562.5 595,1550 620,1545 645,1542.5 650,1540 680,1535 712.5,1536.2 737.5,1546.2 755,1548.8 770,1552.5 785,1560 792.5,1570 800,1575 810,1572.5 820,1560 827.5,1557.5 832.5,1567.5 842.5,1575 852.5,1582.5 855,1600 855,1610Z" fill="#ccffff" stroke="#000" stroke-width="2.2" stroke-linejoin="round"/>
<path d="M601.2,1555 615,1551.2 627.5,1550 627.5,1567.5 620,1573.8 610,1573.8 602.5,1567.5Z" fill="#66ffff" stroke="#000" stroke-width="2" stroke-linejoin="round"/>
<path d="M685,1537.5 687.5,1547.5 697.5,1551.2 707.5,1547.5 710,1537.5Z" fill="#ffffff" stroke="#000" stroke-width="2.4" stroke-linejoin="round"/>
<path d="M677.5,1605 685,1587.5 700,1591.2 710,1605Z" fill="#ffffff" stroke="#000" stroke-width="2.4" stroke-linejoin="round"/>
</g>
<path d="M985,452.5 1000,449.5 1012.5,451.2 1015,470 1000,490 985,502.5 967.5,507.5 962.5,482.5 972.5,470 985,465Z" fill="#fff" stroke="#000" stroke-width="1"/>
<path d="M1077.5,443.8 1095,437.5 1110,442.5 1122.5,430 1127.5,440 1132.5,450 1120,455 1110,447.5 1092.5,443.8Z" fill="#fff" stroke="#000" stroke-width="1"/>
<path d="M1037.5,456.2 1050,452.5 1056.2,457.5 1045,462.5Z" fill="#fff" stroke="#000" stroke-width="1"/>
<path d="M750,412.5 760,397.5 762.5,405 757.5,417.5 752.5,425 746.2,422.5Z" fill="#fff" stroke="#000" stroke-width="1"/>
<path d="M1410,1386.2 1420,1380 1430,1375 1440,1371.2 1450,1370 1465,1368.8 1485,1370 1495,1375 1505,1380 1512.5,1381.2 1500,1385 1485,1387.5 1477.5,1392.5 1470,1397.5 1457.5,1400 1450,1405 1442.5,1400 1432.5,1396.2 1422.5,1393.8 1410,1393.8 1400,1400 1397.5,1410 1396.2,1400 1396.2,1390Z" fill="#fff" stroke="#000" stroke-width="1"/>
<path d="M1235,1475 1250,1480 1265,1476.2 1280,1480 1292.5,1487.5 1300,1492.5 1310,1495 1300,1498.8 1287.5,1496.2 1275,1490 1260,1486.2 1247.5,1487.5 1240,1485Z" fill="#fff" stroke="#000" stroke-width="1"/>
<path d="M1542.5,296.2 1550,305 1560,305 1570,317.5 1582.5,327.5 1597.5,340 1600,350 1610,350 1610,397.5 1600,397.5 1587.5,402.5 1570,397.5 1562.5,415 1552.5,416.2 1552.5,400 1542.5,390 1535,375 1532.5,360 1525,345 1512.5,332.5 1525,322.5 1522.5,312.5 1532.5,310Z" fill="#fff" stroke="#000" stroke-width="1"/>
<path d="M733.8,812.5 740,807.5 742.5,820 748.8,825 745,833.8 737.5,830 732.5,820Z" fill="#fff" stroke="#000" stroke-width="1"/>
<path d="M345,522.5 355,515 372.5,503.8 377,507.5 375,520 367.5,530 370,536.2 360,542.5 350,548 346.2,543.8 355,537.5 347.5,533.8Z" fill="#ffffff" stroke="#000" stroke-width="1"/>
<path d="M333.8,555 345,553 347.5,560 341.2,566.2 335,562.5Z" fill="#ffffff" stroke="#000" stroke-width="1"/>
<path d="M337,571.2 342,571.2 342.5,586.2 337.5,585Z" fill="#ffffff" stroke="#000" stroke-width="1"/>
<path d="M332.5,591.2 336.2,589.5 337.5,593.8 333.8,595.5Z" fill="#ffffff" stroke="#000" stroke-width="1"/>
<path d="M357.5,565 363.8,555 372.5,553 375,562.5 380,572.5 382.5,582.5 375,580 367.5,572.5 362.5,567.5Z" fill="#ffffff" stroke="#000" stroke-width="1"/>
<path d="M350,622.5 360,615 366.2,610.5 365,616.2 355,623.8Z" fill="#ffffff" stroke="#000" stroke-width="1"/>
<path d="M366.2,657.5 375,652.5 380,660 377.5,670 370,672.5Z" fill="#ffffff" stroke="#000" stroke-width="1"/>
<path d="M380,652.5 387.5,642.5 391.2,643.8 385,657.5Z" fill="#ffffff" stroke="#000" stroke-width="1"/>
<path d="M400,666.2 407.5,665 410.5,675 406.2,681.2 400.5,676.2Z" fill="#ffffff" stroke="#000" stroke-width="1"/>
<path d="M390,650 398.8,647.5 396.2,670 393.8,687.5 388,686.2Z" fill="#ffffff" stroke="#000" stroke-width="1"/>
<path d="M421.2,751.2 430,738 434,738.8 432.5,748.8 425,755.5Z" fill="#ffffff" stroke="#000" stroke-width="1"/>
<path d="M427.5,791.2 435,789.5 438.8,795 431.2,798Z" fill="#ffffff" stroke="#000" stroke-width="1"/>
<path d="M525,372.5 535,365 542.5,357.5 546.2,358.8 543.8,367.5 537.5,375 536.2,390 532.5,400 531.2,418.8 528,419.5 528.8,402.5 525,397.5 518.8,395 520,388.8 527.5,385 521.2,378.8Z" fill="#ffffff" stroke="#000" stroke-width="1"/>
<path d="M465,467.5 471.2,464.5 477.5,470 482.5,477 477.5,480 470,477.5 465,473.8Z" fill="#ffffff" stroke="#000" stroke-width="1"/>
<path d="M486.2,458.8 491.2,454.5 495.5,455.5 491.2,460Z" fill="#ffffff" stroke="#000" stroke-width="1"/>
<path d="M475,483.8 479.5,483.8 478.5,489.5 476,488.8Z" fill="#ffffff" stroke="#000" stroke-width="1"/>
<path d="M343.8,261.2 352.5,258.8 360,266.2 357.5,275 352.5,282.5 346.2,275Z" fill="#ffffff" stroke="#000" stroke-width="1"/>
<path d="M353.8,288.8 360,287 362.5,293.8 358,297.5Z" fill="#ffffff" stroke="#000" stroke-width="1"/>
<path d="M352,306.2 356.2,307 361.2,320 358,321.2Z" fill="#ffd9d9" stroke="#000" stroke-width="1"/>
<path d="M877.5,677.5 890,672.5 905,672.5 911.2,682.5 912.5,695 905,702.5 895,700 885,697.5 880,687.5Z" fill="#ffd9d9" stroke="#000" stroke-width="1"/>
<path d="M922.5,667.5 932.5,655 942.5,652.5 957.5,642.5 966.2,650 967.5,665 962.5,675 960,687.5 955,695 957.5,705 947.5,710 937.5,705 925,695 923.8,680Z" fill="#ffd9d9" stroke="#000" stroke-width="1"/>
<path d="M918.8,712.5 925,707.5 937.5,712.5 947.5,711.2 950,725 937.5,722.5 925,720Z" fill="#ffd9d9" stroke="#000" stroke-width="1"/>
<path d="M918.8,731.2 925,733.8 926.2,737.5 920,737Z" fill="#ffd9d9" stroke="#000" stroke-width="1"/>
<path d="M907.5,717.5 912.5,697.5 915,698.8 910,718.8Z" fill="#ffd9d9" stroke="#000" stroke-width="1"/>
<path d="M1033.8,692.5 1037.5,688.8 1048.8,696.2 1046.2,705 1036.2,701.2Z" fill="#ffd9d9" stroke="#000" stroke-width="1"/>
<path d="M985,730 990,722.5 1000,727.5 1002.5,740 995,747.5 987.5,742.5Z" fill="#ffd9d9" stroke="#000" stroke-width="1"/>
<path d="M912.5,577.5 920,573.8 923.8,576.2 916.2,580Z" fill="#ffd9d9" stroke="#000" stroke-width="1"/>
<path d="M1087.5,635 1095,610 1101.2,590 1107.5,572.5 1110.5,573.8 1106.2,592.5 1098.8,615 1092,637Z" fill="#ffd9d9" stroke="#000" stroke-width="1"/>
<path d="M1142.5,595 1147.5,582.5 1142.5,562.5 1150,547.5 1160,540 1172.5,535 1180,536.2 1172.5,542.5 1165,560 1160,580 1150,590 1145,597.5Z" fill="#ffd9d9" stroke="#000" stroke-width="1"/>
<path d="M1186.2,397.5 1195,386.2 1205,387.5 1210,395 1205,400 1208.8,410 1200,407.5 1190,402.5Z" fill="#ffaaaa" stroke="#000" stroke-width="1"/>
<path d="M1267.5,477.5 1277.5,475 1282.5,470 1290,475 1295,482.5 1287.5,487.5 1280,491.2 1276.2,482.5Z" fill="#ffaaaa" stroke="#000" stroke-width="1"/>
<path d="M1260,503.8 1270,500 1285,496.2 1300,500 1302.5,507.5 1295,515 1285,520 1275,522.5 1272.5,530 1267.5,537.5 1263.8,535 1270,525 1262.5,521.2 1261.2,512.5Z" fill="#ffaaaa" stroke="#000" stroke-width="1"/>
<path d="M1298.8,495 1305,493.8 1307.5,500 1302.5,502.5Z" fill="#ffaaaa" stroke="#000" stroke-width="1"/>
<path d="M1610,1137.5 1600,1137.5 1587.5,1135 1575,1140 1585,1145 1600,1148.8 1610,1148.8Z" fill="#ffd9d9" stroke="#000" stroke-width="1"/>
<path d="M1610,1172.5 1600,1173.8 1595,1177.5 1598.8,1182.5 1610,1183.8Z" fill="#ffaaaa" stroke="#000" stroke-width="1"/>
<path d="M691.2,1411.2 700,1409.5 706.2,1415 703.8,1420 695,1416.2Z" fill="#ffffff" stroke="#000" stroke-width="1"/>
<path d="M650,1426.2 657.5,1420 667.5,1416.2 680,1422.5 677.5,1430 672.5,1437.5 667.5,1441.2 660,1436.2 655,1431.2Z" fill="#ffffff" stroke="#000" stroke-width="1"/>
<path d="M608.8,1455 615,1448.8 621.2,1450 617.5,1457.5 611.2,1460Z" fill="#ffffff" stroke="#000" stroke-width="1"/>
<path d="M645,1428.8 650,1426.2 652.5,1430 647.5,1431.2Z" fill="#ffd9d9" stroke="#000" stroke-width="1"/>
<path d="M865,1286.2 868.8,1285 870,1300 872.5,1317.5 870,1335 865,1347.5 862.5,1355 852.5,1348.8 847.5,1335 842.5,1325 841.2,1312.5 847.5,1302.5 857.5,1297.5 865,1296.2Z" fill="#ffd9d9" stroke="#000" stroke-width="1"/>
<path d="M842.5,1376.2 850,1367.5 862.5,1360 872.5,1367.5 875,1380 880,1390 876.2,1405 876.2,1425 873.8,1440 870,1450 857.5,1442.5 852.5,1450 850,1457.5 842.5,1457.5 835,1452.5 837.5,1437.5 836.2,1420 840,1407.5 835,1390 827.5,1387.5 828.8,1375Z" fill="#ffffff" stroke="#000" stroke-width="1"/>
<path d="M842.5,1376.2 850,1367.5 862.5,1360 872.5,1367.5 875,1380 880,1390 876.2,1405 875,1410 862.5,1400 850,1390Z" fill="#ffd9d9" stroke="#000" stroke-width="1"/>
<path d="M888.8,1294.5 898.8,1293 898.8,1297 890,1297.5Z" fill="#ffffff" stroke="#000" stroke-width="1"/>
<path d="M962.5,1500 966.7,1490 971.7,1488.3 983.3,1490 993.3,1491.7 1006.7,1493.3 1016.7,1493.3 1030,1491.7 1043.3,1486.7 1053.3,1483.3 1061.7,1481.7 1060,1490 1053.3,1500 1048.3,1510 1046.7,1520 1051.7,1530 1053.3,1535 1048.3,1543.3 1046.7,1550 1036.7,1548.3 1030,1543.3 1023.3,1536.7 1013.3,1531.7 1001.7,1525 991.7,1518.3 983.3,1513.3 975,1510 966.7,1506.7Z" fill="#ffffff" stroke="#000" stroke-width="1"/>
<path d="M962.5,1500 966.7,1490 972.5,1488.7 977.5,1510 975,1510 966.7,1506.7Z" fill="#ffd9d9" stroke="#000" stroke-width="1"/>
<path d="M1026.7,1492.5 1030,1491.7 1043.3,1486.7 1053.3,1483.3 1061.7,1481.7 1060,1490 1053.3,1500 1048.3,1510 1046.7,1520 1051.7,1530 1053.3,1535 1048.3,1543.3 1046.7,1550 1036.7,1548.3 1030,1543.3 1023.3,1536.7 1023.3,1533.3Z" fill="#ffd9d9" stroke="#000" stroke-width="1"/>
<path d="M1342.5,1378.8 1350,1380 1351.2,1386.2 1345,1387.5Z" fill="#ff5555" stroke="#000" stroke-width="1"/>
<path d="M1361.2,1412.5 1372.5,1411.2 1370,1420 1362.5,1418.8Z" fill="#ffffff" stroke="#000" stroke-width="1"/>
<path d="M1381.2,1403.8 1390,1402.5 1388.8,1407.5 1382,1407.5Z" fill="#ff5555" stroke="#000" stroke-width="1"/>
<path d="M1385,1442.5 1395,1437.5 1405,1440 1407.5,1450 1400,1452.5 1390,1448.8Z" fill="#ffaaaa" stroke="#000" stroke-width="1"/>
<path d="M1387.5,1470 1393.8,1468.8 1396.2,1480 1390,1485Z" fill="#ffaaaa" stroke="#000" stroke-width="1"/>
<path d="M1410,1502.5 1422.5,1501.2 1423.8,1506.2 1412.5,1507.5Z" fill="#ffaaaa" stroke="#000" stroke-width="1"/>
<path d="M1297.5,1456.2 1310,1461.2 1325,1472.5 1335,1482.5 1343.8,1491.2 1340,1493.8 1330,1487.5 1315,1475 1302.5,1465Z" fill="#ffaaaa" stroke="#000" stroke-width="1"/>
<path d="M1350,1495 1353.8,1493.8 1360,1505 1356.2,1506.2Z" fill="#ffaaaa" stroke="#000" stroke-width="1"/>
<path d="M1445,1565 1460,1555 1461.2,1562.5 1450,1575Z" fill="#ff5555" stroke="#000" stroke-width="1"/>
<path d="M1420,1543.8 1430,1540 1431.2,1542.5 1421.2,1546.2Z" fill="#ffaaaa" stroke="#000" stroke-width="1"/>
<path d="M1312.5,1597.5 1317.5,1590 1330,1592.5 1345,1596.2 1350,1600 1350,1605 1312.5,1605Z" fill="#ffaaaa" stroke="#000" stroke-width="1"/>
<path d="M1293.8,1562.5 1297.5,1560 1300,1567.5 1296.2,1570Z" fill="#ffaaaa" stroke="#000" stroke-width="1"/>
<path d="M1337.5,1543.8 1343.8,1542.5 1343.8,1546.2 1338.8,1547Z" fill="#ff5555" stroke="#000" stroke-width="1"/>
<path d="M1367.5,1542.5 1371.2,1543.8 1369.5,1547.5Z" fill="#ccffff" stroke="#000" stroke-width="1"/>
<path d="M1397.5,1550 1403.8,1547.5 1404.5,1551.2 1398.8,1553Z" fill="#ccffff" stroke="#000" stroke-width="1"/>
<path d="M1190,1421.2 1197.5,1420 1202.5,1432.5 1196.2,1433.8Z" fill="#ffaaaa" stroke="#000" stroke-width="1"/>
<path d="M1212.5,1480 1220,1475 1225,1485 1217.5,1487.5Z" fill="#ff5555" stroke="#000" stroke-width="1"/>
<path d="M1221.2,1497.5 1227.5,1500 1230,1505 1225,1503.8Z" fill="#ffaaaa" stroke="#000" stroke-width="1"/>
<path d="M1425,1590 1428.8,1580 1428,1595Z" fill="#ffaaaa" stroke="#000" stroke-width="1"/>
<path d="M1087.5,1271.2 1100,1270 1102.5,1273.8 1090,1275Z" fill="#ffaaaa" stroke="#000" stroke-width="1"/>
<path d="M1077.5,1282.5 1082.5,1282 1082,1285 1077.5,1285.5Z" fill="#ffaaaa" stroke="#000" stroke-width="1"/>
<path d="M1095,1286.2 1110,1287.5 1111.2,1290.5 1096.2,1289.5Z" fill="#ffaaaa" stroke="#000" stroke-width="1"/>
<path d="M1117.5,1295 1130,1297.5 1129.5,1300 1117.5,1298Z" fill="#ffaaaa" stroke="#000" stroke-width="1"/>
<path d="M1037.5,1210 1043.8,1220 1050,1227.5 1047.5,1228.8 1040,1221.2 1035,1211.2Z" fill="#ffaaaa" stroke="#000" stroke-width="1"/>
<path d="M1038.8,1235 1050,1245 1048.8,1247.5 1037.5,1237.5Z" fill="#ffaaaa" stroke="#000" stroke-width="1"/>
<g fill="none" stroke="#000" stroke-width="1.1" stroke-linejoin="round">
<path d="M412.5,496.2 427.5,501.2 437.5,497.5 445,499.5 460,497.5 472.5,493.8 475.5,505 466.2,517.5 452.5,528.8 446.2,541.2 437.5,555 460,552.5 472.5,550.5 485,552 507.5,552.5 514.2,565 507.5,575 505,585 501.2,595 493.8,612.5 485.5,625 472.5,630 481.2,640 485,646.2 495,652.5 507.5,662.5 518.8,672.5 521.2,692.5 527.5,712.5 545,730 555,742.5 566.2,752.5 567.5,767.5 575,780 550,775 570,783.8 580,797.5 582.5,807.5 572.5,817.5 583.8,820.5 595,813.8 615,816.2 625,830 623,847.5 615,862.5 607.5,872.5 600,882.5 587.5,891.2 600,895 615,896.2 612.5,907.5 597.5,920 580,927.5 560,925 540,922.5 525,927.5 507.5,930 492.5,935 477.5,930 457.5,937.5 452.5,952.5 432.5,947.5 415,955 407.5,965 400,960 392.5,962.5 400,950 415,935 425,917.5 437.5,905 457.5,902.5 475,897.5 485,890 495,876.2 480,890 460,897.5 445,885 420,880 406.2,870 420,862.5 435,850 441.2,835 437.5,820 422.5,821.2 432.5,807.5 427.5,795 440,793.8 455,796.2 472.5,797.5 482.5,795 475,785 475,765 481.2,750 470,752.5 460,730 457.5,720 472.5,707.5 452.5,708.8 437.5,715 417.5,715 413.8,723.8 408.8,707.5 417.5,692.5 425,677.5 417.5,667.5 420,652.5 415,642.5 405,647 395,640 392.5,627.5 375,630 372.5,617.5 385,605 382.5,585 395,572.5 386.2,562.5 387.5,542.5 400,537.5 397.5,527.5 407.5,515Z"/>
<path d="M340,685 350,690 345,697.5 362.5,692.5 380,695 385,705 392.5,715 390,722.5 397.5,727.5 398.8,737.5 392.5,745 385,755 370,757.5 372.5,770 377.5,785 376.2,800 380,812.5 376.2,830 370,845 371.2,855 360,853.8 350,855 337.5,860 327.5,867.5 307.5,872.5 295,882.5 277.5,890 262.5,891.2 270,880 247.5,877.5 257.5,872.5 242.5,865 240,857.5 260,850 262.5,837.5 277.5,832.5 257.5,835 272.5,822.5 277.5,805 287.5,800 270,800 252.5,790 250,782.5 267.5,767.5 257.5,765 247.5,760 252.5,745 265,741.2 280,745 282.5,750 297.5,740 312.5,737.5 313.8,725 293.8,721.2 305,715 307.5,700 325,692.5 330,697.5Z"/>
<path d="M820,190 820,200 805,207.5 790,217.5 785,232.5 767.5,242.5 755,255 732.5,270 722.5,290 725,310 722.5,335 727.5,350 725,370 727.5,395 737.5,400 750,417.5 745,427.5 732.5,425 735,450 733.8,462.5 745,475 745,490 755,507.5 775,517.5 780,527.5 792.5,532.5 810,531.2 825,527.5 835,517.5 850,507.5 865,490 875,470 890,468.8 900,455 902.5,440 905,422.5 907.5,440 910,457.5 922.5,470 925,487.5 925,510 932.5,522.5 940,545 950,570 957.5,590 970,605 977.5,625 970,640 972.5,650 977.5,665 982.5,675 980,682.5 995,683.8 1010,677.5 1017.5,672.5 1020,660 1032.5,647.5 1035,641.2 1050,641.2 1070,645 1075,640 1080,625 1087.5,610 1090,590 1095,570 1096.2,557.5 1092.5,550 1095,540 1100,525 1097.5,510 1103.8,505 1100,500 1110,490 1125,480 1132.5,465 1132.5,460 1145,455 1157.5,450 1162.5,432.5 1171.2,422.5 1167.5,412.5 1157.5,400 1150,390 1137.5,377.5 1132.5,375 1117.5,370 1111.2,350 1112.5,330 1111.2,310 1115,300 1120,282.5 1125,265 1122.5,247.5 1137.5,240 1142.5,227.5 1155,217.5 1150,210 1157.5,200 1157,190Z"/>
<path d="M1247,190 1247.5,200 1252.5,210 1240,222.5 1235,235 1237.5,255 1242.5,272.5 1245,282.5 1250,295 1252.5,310 1248.8,315 1250,330 1245,350 1245,370 1257.5,375 1262.5,385 1277.5,387.5 1285,397.5 1297.5,390 1290,400 1300,410 1310,407.5 1315,412.5 1330,407.5 1345,405 1362.5,397.5 1375,395 1387.5,387.5 1400,385 1410,372.5 1420,375 1430,377.5 1450,375 1465,372.5 1475,365 1476.2,380 1472.5,382.5 1480,392.5 1487.5,402.5 1500,400 1512.5,402.5 1515,410 1523.8,412.5 1522.5,418.8 1510,415 1500,412.5 1487.5,412.5 1480,422.5 1470,420 1462.5,430 1455,425 1450,440 1435,445 1420,445 1407.5,440 1400,437.5 1387.5,437.5 1375,432.5 1372.5,443.8 1350,443.8 1337.5,446.2 1325,452.5 1312.5,460 1311.2,475 1311.2,487.5 1312.5,500 1320,512.5 1330,520 1340,511.2 1345,520 1340,537.5 1337.5,550 1338.8,570 1335,585 1325,595 1312.5,593.8 1302.5,585 1297.5,572.5 1287.5,560 1280,548.8 1270,555 1255,560 1247.5,575 1245,590 1235,602.5 1233.8,625 1232.5,650 1236.2,650 1238,672.5 1241.2,685 1240.5,710 1225,710 1205,711.2 1205,722.5 1213.8,722.5 1207.5,728.8 1197.5,735 1180,744.5 1173.8,740 1165,740 1156.2,733.8 1152.5,722.5 1163.8,725 1150,717.5 1125,720 1100,727.5 1087.5,735 1075,742.5 1050,755 1035,760 1030,767.5 1025,772.5 1010,765 1005,755 995,750 985,740 975,737.5 962.5,742.5 950,750 937.5,755 925,760 912.5,760 920,747.5 915,740 902.5,736.2 887.5,730 885,720 885,710 880,705 872.5,695 875,682.5 880,670 887.5,657.5 900,650 897.5,637.5 910,632.5 915,622.5 897.5,612.5 895,600 897.5,592.5 900,575 902.5,550 885,560 870,582.5 842.5,587.5 830,605 826.2,625 826.2,650 835,655 827.5,672.5 835,682.5 842.5,695 835,705 832.5,717.5 840,712.5 850,725 857.5,735 845,740 850,750 850,762.5 857.5,765 867.5,772.5 877.5,783.8 865,775 850,767.5 840,767.5 837.5,782.5 830,790 825,785 822.5,775 800,777.5 792.5,787.5 795,797.5 786.2,788.8 762.5,792.5 745,797.5 725,802.5 720,812.5 717.5,825 715,840 707.5,855 700,867.5 695,877.5 685,882.5 680,892.5 675,897.5 662.5,902.5 650,910 632.5,915 622.5,922.5 620,942.5 615,957.5 605,967.5 595,971.2 582.5,975 575,982.5 575,990 585,991.2 565,998.8 550,995 535,993.8 530,985 510,978.8 515,995 520,1010 520,1025 525,1030 510,1030 507.5,1035 500,1030 487.5,1035 475,1022.5 467.5,1020 457.5,1022.5 445,1027.5 425,1030 420,1040 432.5,1047.5 422.5,1057.5 432.5,1062.5 440,1067.5 455,1071.2 470,1080 472.5,1087.5 487.5,1082.5 495,1092.5 510,1093.8 502.5,1100 507.5,1107.5 505,1112.5 515,1127.5 525,1140 535,1147.5 530,1160 540,1172.5 547.5,1185 552.5,1200 535,1175 532.5,1200 530,1225 527.5,1247.5 522.5,1265 517.5,1270 512.5,1270 495,1267.5 477.5,1266.2 460,1265 445,1267.5 432.5,1268.8 415,1265 395,1262.5 385,1258.8 375,1262.5 360,1261.2 342.5,1261.2 335,1253.8 322.5,1252.5 312.5,1260 302.5,1267.5 290,1272.5 280,1277.5 277.5,1287.5 285,1295 287.5,1305 295,1315 292.5,1325 291.2,1335 295,1350 296.2,1370 295,1385 292.5,1400 287.5,1415 282.5,1430 280,1440 285,1450 290,1465 295,1475 292.5,1487.5 295,1500 293.8,1515 290,1530 302.5,1527.5 320,1532.5 335,1526.2 352.5,1525 362.5,1532.5 370,1546.2 377.5,1555 390,1567.5 397.5,1570 405,1557.5 417.5,1550 432.5,1543.8 452.5,1542.5 472.5,1542.5 490,1545 500,1537.5 510,1525 520,1517.5 540,1510 545,1502.5 547.5,1487.5 555,1475 562.5,1465 560,1450 562.5,1435 567.5,1420 572.5,1407.5 582.5,1392.5 595,1385 592.5,1377.5 602.5,1367.5 620,1360 635,1352.5 645,1342.5 660,1332.5 670,1327.5 672.5,1317.5 665,1307.5 665,1292.5 670,1277.5 677.5,1270 687.5,1265.5 700,1263.8 712.5,1267.5 722.5,1267.5 730,1262.5 737.5,1275 752.5,1282.5 762.5,1281.2 777.5,1275 790,1262.5 802.5,1252.5 820,1247.5 835,1235 847.5,1225 860,1227.5 875,1236.2 887.5,1245 895,1257.5 900,1272.5 905,1285 915,1297.5 922.5,1310 935,1320 947.5,1332.5 960,1345 972.5,1360 985,1372.5 1000,1375 1035,1383.3 1043.3,1396.7 1041.7,1401.7 1051.7,1410 1060,1408.3 1066.7,1415 1070,1426.7 1075,1435 1078.3,1450 1081.7,1458.3 1076.7,1465 1070,1468.3 1071.7,1473.3 1066.7,1481.7 1063.3,1486.7 1065,1495 1075,1496.7 1083.3,1486.7 1091.7,1475 1091.7,1465 1100,1458.3 1110,1453.3 1110.8,1443.3 1110,1435 1100,1428.3 1091.7,1423.3 1090,1418.3 1093.3,1410 1098.3,1401.7 1105,1393.3 1113.3,1391.7 1116.7,1396.7 1126.7,1398.3 1135,1403.3 1138.3,1411.7 1143.3,1418.3 1150,1420 1153.3,1410 1151.7,1401.7 1145,1393.3 1138.3,1385 1128.3,1378.3 1116.7,1371.7 1106.7,1366.7 1095,1361.7 1083.3,1356.7 1073.3,1350 1071.7,1345 1080,1338.3 1080,1333.3 1073.3,1330 1060,1331.7 1046.7,1330 1033.3,1321.7 1025,1315 1016.7,1305 1008.3,1293.3 1006.7,1283.3 1001.7,1266.7 998.3,1260 1000,1265 990,1255 980,1245 970,1235 965,1222.5 960,1210 962.5,1197.5 955,1190 957.5,1180 967.5,1172.5 980,1167.5 987.5,1163.8 997.5,1165 1005,1170 1000,1175 1000,1177.5 1005,1190 1010,1205 1015,1200 1020,1187.5 1025,1183.8 1032.5,1190 1037.5,1207.5 1045,1220 1055,1232.5 1065,1247.5 1075,1257.5 1090,1265 1105,1275 1120,1285 1135,1295 1150,1305 1160,1312.5 1150,1300 1157.5,1310 1167.5,1322.5 1177.5,1332.5 1185,1340 1187.5,1350 1182.5,1362.5 1185,1375 1180,1390 1187.5,1400 1195,1412.5 1200,1422.5 1210,1430 1217.5,1437.5 1225,1447.5 1230,1455 1225,1465 1232.5,1472.5 1235,1482.5 1237.5,1495 1242.5,1507.5 1245,1520 1250,1530 1255,1542.5 1257.5,1535 1265,1532.5 1272.5,1545 1277.5,1555 1280,1545 1285,1540 1292.5,1550 1300,1555 1297.5,1542.5 1290,1530 1292.5,1517.5 1302.5,1517.5 1310,1510 1305,1500 1315,1497.5 1325,1485 1335,1490 1345,1492.5 1340,1485 1330,1475 1320,1467.5 1310,1460 1300,1452.5 1290,1457.5 1282.5,1460 1295,1450 1305,1447.5 1300,1437.5 1292.5,1425 1285,1415 1282.5,1402.5 1286.2,1390 1292.5,1387.5 1295,1397.5 1305,1400 1310,1410 1315,1402.5 1322.5,1412.5 1325,1402.5 1335,1407.5 1330,1397.5 1325,1390 1320,1385 1330,1380 1340,1375 1355,1372.5 1370,1372.5 1385,1377.5 1392.5,1377.5 1395,1387.5 1400,1397.5 1397.5,1410 1395,1422.5 1400,1432.5 1410,1430 1420,1432.5 1412.5,1440 1400,1442.5 1387.5,1441.2 1400,1450 1410,1453.8 1420,1450 1417.5,1462.5 1425,1475 1415,1477.5 1405,1472.5 1400,1480 1410,1487.5 1425,1492.5 1430,1505 1435,1515 1432.5,1520 1440,1525 1455,1532.5 1465,1540 1482.5,1550 1500,1562.5 1507.5,1572.5 1525,1562.5 1530,1550 1550,1540 1570,1547.5 1590,1560 1597.5,1572.5 1612.5,1572.5 1612.5,1335 1600,1335 1590,1340 1575,1350 1560,1360 1540,1365 1520,1365 1500,1362.5 1480,1357.5 1465,1350 1455,1340 1450,1325 1444.5,1311.2 1442,1300 1450,1285 1457.5,1270 1470,1260 1472.5,1240 1480,1225 1477.5,1215 1485,1200 1500,1195 1510,1182.5 1505,1170 1512.5,1160 1530,1150 1532.5,1147.5 1532.5,1137.5 1540,1126.2 1550,1122.5 1562.5,1125 1572.5,1122.5 1575,1112.5 1572.5,1097.5 1577.5,1110 1575,1125 1582.5,1130 1592.5,1127.5 1600,1125 1610,1125 1610,190Z"/>
<path d="M377.5,1610 380,1597.5 382.5,1582.5 395,1577.5 402.5,1585 415,1597.5 420,1610Z"/>
<path d="M530,1610 530,1597.5 535,1585 552.5,1580 570,1575 580,1562.5 600,1552.5 620,1550 645,1547.5 650,1543.8 665,1540 680,1538.8 695,1536.2 712.5,1538.8 725,1545 737.5,1546.2 755,1540 767.5,1532.5 772.5,1528.8 782.5,1532.5 795,1535 800,1530 812.5,1535 825,1536.2 840,1535 850,1530 862.5,1522.5 875,1520 887.5,1522.5 892.5,1532.5 895,1541.2 910,1535 920,1530 920,1540 912.5,1547.5 905,1555 900,1567.5 905,1577.5 915,1585 918.8,1600 918.8,1610Z"/>
<path d="M950,200 953.8,230 957.5,262.5 953.8,295 975,322.5 967.5,343.8 960,360 967.5,387.5 957.5,415 945,422.5 940,435 941.2,457.5 930,477.5 925,487.5"/>
<path d="M295,1315 307.5,1325 315,1330 330,1335 345,1332.5 362.5,1330 370,1340 375,1347.5 367.5,1360 360,1365 355,1375 356.2,1390 352.5,1405 352.5,1417.5 347.5,1430 345,1445 350,1450 342.5,1462.5 340,1475 350,1487.5 342.5,1497.5 335,1507.5 336.2,1525"/>
<path d="M520,1267.5 527.5,1280 545,1287.5 570,1297.5 590,1295 610,1300 630,1307.5 650,1310 667.5,1307.5"/>
<path d="M832.5,1537.5 828.8,1552.5 831.2,1567.5 833.8,1582.5 832.5,1600"/>
<path d="M1565,200 1567.5,220 1557.5,240 1537.5,265 1512.5,300 1487.5,335 1465,360 1450,375"/>
<path d="M1457.5,450 1440,470 1436.2,487.5 1437.5,510 1445,537.5 1432.5,560"/>
<path d="M1346.2,535 1365,530 1375,532.5 1387.5,545 1405,561.2 1432.5,560"/>
<path d="M1432.5,560 1447.5,575 1445,595 1455,620 1460,640 1460,650"/>
<path d="M1240,640 1265,627.5 1285,631.2 1300,625 1325,630 1355,625 1362.5,635 1375,650"/>
<path d="M1600,575 1575,590 1550,600 1542.5,610 1550,620 1555,630"/>
<path d="M1375,650 1395,660 1410,667.5 1425,657.5 1445,650 1455,641.2 1475,647.5"/>
<path d="M1410,667.5 1407.5,685 1415,690 1397.5,700 1387.5,710 1382.5,725 1377.5,742.5 1362.5,747.5 1350,755 1337.5,765 1312.5,762.5"/>
<path d="M1205,737.5 1225,740 1260,741.2 1290,740"/>
<path d="M1290,740 1285,725 1291.2,712.5 1285,705 1265,702.5 1240,690"/>
<path d="M1290,740 1310,752.5 1315,775 1325,807.5 1325,827.5 1307.5,837.5 1302.5,850 1315,862.5 1315,882.5"/>
<path d="M1315,882.5 1320,902.5 1330,922.5 1327.5,940 1315,947.5 1297.5,970 1285,987.5 1290,1010"/>
<path d="M1315,882.5 1325,885 1337.5,870 1362.5,866.2 1387.5,870 1412.5,875 1430,882.5 1450,885 1472.5,885"/>
<path d="M1475,647.5 1495,650 1500,662.5 1525,660 1547.5,675"/>
<path d="M1542.5,707.5 1550,725 1557.5,740 1575,757.5 1590,770 1597.5,785"/>
<path d="M1475,885 1490,887.5 1495,895 1512.5,890 1525,892.5 1535,900"/>
<path d="M1600,795 1585,807.5 1560,802.5 1562.5,820 1567.5,845 1572.5,857.5 1590,860 1600,847.5"/>
<path d="M1572.5,857.5 1545,862.5 1537.5,875 1535,900"/>
<path d="M842.5,710 862.5,711.2 885,710"/>
<path d="M795,797.5 797.5,812.5 792.5,830 782.5,835 792.5,845 787.5,860 762.5,870 760,877.5 766.2,887.5 762.5,907.5 752.5,915 767.5,932.5 772.5,947.5 765,955 775,975 770,990"/>
<path d="M715,840 730,845 745,850 755,835"/>
<path d="M650,910 660,927.5 675,925 685,940 700,950 702.5,962.5 722.5,960 725,975 742.5,987.5 755,990 770,990"/>
<path d="M703.8,897.5 717.5,890 732.5,892.5 750,905 752.5,915"/>
<path d="M1015,775 1022.5,795 1025,815 1017.5,820 1030,835 1032.5,857.5 1042.5,887.5 1045,912.5 1040,922.5"/>
<path d="M952.5,947.5 960,955 965,975 972.5,990 982.5,1005 1000,1025 1005,1050"/>
<path d="M952.5,947.5 970,940 985,935 1000,925 1020,915 1040,922.5 1050,917.5 1060,925 1075,932.5 1090,930 1100,940"/>
<path d="M750,990 765,987.5 782.5,1002.5 807.5,1007.5 827.5,1015 817.5,1032.5 812.5,1057.5 810,1080"/>
<path d="M810,1080 790,1090 775,1105 765,1125 760,1145 780,1135 785,1152.5 805,1157.5 825,1150 852.5,1147.5 857.5,1157.5"/>
<path d="M810,1080 835,1072.5 855,1075 870,1085 900,1095 930,1087.5"/>
<path d="M857.5,1157.5 867.5,1145 880,1135 890,1125 900,1112.5 900,1095"/>
<path d="M930,1087.5 955,1085 975,1075 980,1082.5"/>
<path d="M900,1112.5 925,1110 955,1105 975,1122.5 997.5,1127.5"/>
<path d="M997.5,1127.5 1025,1132.5 1050,1122.5 1085,1115 1090,1090 1097.5,1075"/>
<path d="M980,1082.5 975,1060 990,1045 1007.5,1032.5 1030,1032.5 1042.5,1012.5 1072.5,1022.5 1085,1037.5"/>
<path d="M1085,1115 1092.5,1130 1107.5,1145"/>
<path d="M997.5,1127.5 1002.5,1162.5"/>
<path d="M1002.5,1162.5 1015,1170 1030,1167.5 1045,1177.5 1055,1165 1065,1157.5 1072.5,1140 1085,1130"/>
<path d="M1067.5,1202.5 1067.5,1190 1075,1187.5 1082.5,1197.5 1100,1187.5 1125,1195 1165,1202.5"/>
<path d="M1067.5,1202.5 1080,1225 1100,1250 1120,1275 1140,1292.5 1150,1305"/>
<path d="M750,1277.5 765,1277.5 782.5,1267.5"/>
<path d="M782.5,1267.5 785,1250 780,1237.5 785,1210 777.5,1190 765,1175 760,1145"/>
<path d="M1082.5,1022.5 1102.5,1027.5 1107.5,1045 1120,1065 1140,1070 1160,1070"/>
<path d="M1160,1070 1165,1057.5 1185,1052.5 1212.5,1040 1230,1032.5 1250,1035 1270,1042.5 1290,1057.5"/>
<path d="M1130,1020 1145,997.5 1165,987.5 1185,985 1197.5,1002.5 1212.5,995 1232.5,995 1250,992.5 1275,1005 1290,1010"/>
<path d="M1290,1010 1285,982.5 1300,965 1317.5,950"/>
<path d="M1290,1057.5 1270,1042.5 1272.5,1025 1280,1010 1290,1010"/>
<path d="M1290,1057.5 1307.5,1057.5 1332.5,1062.5 1355,1072.5 1370,1065"/>
<path d="M1290,1057.5 1270,1080 1257.5,1100 1250,1120 1237.5,1140 1225,1145 1210,1147.5"/>
<path d="M1172.5,1152.5 1190,1147.5 1210,1147.5 1225,1162.5 1227.5,1175 1242.5,1190 1247.5,1205 1265,1215"/>
<path d="M1110,1145 1125,1157.5 1145,1162.5 1165,1157.5 1170,1175 1170,1195"/>
<path d="M1092.5,1190 1110,1190 1130,1197.5 1150,1192.5 1170,1195 1180,1212.5"/>
<path d="M1160,1275 1157.5,1287.5 1170,1270 1185,1267.5"/>
<path d="M1180,1320 1195,1305 1210,1310 1220,1325 1220,1340"/>
<path d="M1220,1340 1225,1325 1240,1317.5 1260,1315 1277.5,1312.5"/>
<path d="M1277.5,1312.5 1280,1295 1295,1280"/>
<path d="M1277.5,1312.5 1287.5,1325 1295,1340 1295,1355"/>
<path d="M1220,1340 1215,1355 1225,1365 1240,1372.5 1260,1360 1280,1357.5 1295,1355"/>
<path d="M1295,1355 1312.5,1352.5 1330,1357.5 1350,1347.5 1370,1357.5 1390,1350 1405,1340"/>
<path d="M1265,1215 1280,1225 1292.5,1247.5 1315,1252.5 1335,1257.5 1360,1250 1380,1255 1400,1245 1425,1237.5"/>
<path d="M1185,1360 1190,1375 1180,1390 1180,1400"/>
<path d="M1240,1372.5 1235,1385 1230,1400"/>
<path d="M1410,1047.5 1430,1040 1450,1040 1462.5,1050 1480,1055 1490,1062.5 1491.2,1075 1490,1085"/>
<path d="M1375,1062.5 1395,1057.5 1410,1047.5"/>
<path d="M1425,1050 1435,1075 1447.5,1100 1457.5,1120 1461.2,1145 1457.5,1165 1462.5,1177.5"/>
<path d="M1490,1085 1502.5,1092.5 1505,1110 1515,1120 1515,1132.5 1500,1135 1485,1130"/>
<path d="M1485,1130 1487.5,1145 1477.5,1155 1470,1170 1462.5,1177.5"/>
<path d="M1462.5,1177.5 1475,1182.5 1495,1177.5 1505,1182.5"/>
<path d="M1600,850 1582.5,860 1550,860 1540,870 1535,900"/>
<path d="M1475,890 1485,882.5 1495,895 1515,890 1525,890 1535,900"/>
<path d="M1410,1332.5 1400,1345 1402.5,1362.5 1397.5,1375 1395,1387.5"/>
<path d="M1330,1350 1350,1352.5 1365,1357.5 1385,1357.5 1400,1345"/>
<path d="M1212.5,1412.5 1222.5,1400 1225,1385 1235,1375"/>
<path d="M1295,1357.5 1305,1352.5 1330,1350"/>
</g>
<g fill="none" stroke="#000" stroke-linejoin="round" stroke-linecap="round">
<path d="M440,501.2 443.8,515 450,527.5" stroke-width="3.3"/>
<path d="M390,543.8 407.5,533.8 425,530 432.5,533.8 437.5,550" stroke-width="3.3"/>
<path d="M455,568.8 463.8,573.8 468.8,583.8 462.5,592.5 452.5,596.2 446.2,590 445,580 448.8,572.5 455,568.8" stroke-width="3.3"/>
<path d="M420,667.5 432.5,647.5 445,627.5 455,622.5 466.2,627.5 472.5,645 485,662.5 486.2,677.5 480,692.5 470,701.2 455,705 440,706.2 427.5,701.2 417.5,693.8" stroke-width="3.3"/>
<path d="M495,702.5 507.5,703.8 518.8,712.5 520,722.5 512.5,733.8 500,737.5 488.8,730 483.8,717.5 486.2,707.5 495,702.5" stroke-width="3.3"/>
<path d="M487.5,650 492.5,657.5 500,656.2 505,666.2 510,668.8" stroke-width="3.3"/>
<path d="M543.8,730 545,737.5 550,740 550,755 545,775 537.5,792.5 540,807.5 537.5,830 537.5,845 542.5,857.5 555,862.5 565,861.2 566.2,853.8 560,850" stroke-width="3.3"/>
<path d="M542.5,857.5 530,872.5 515,900 502.5,920 492.5,930 488.8,933.8" stroke-width="3.3"/>
<path d="M566.2,876.2 575,880 578.8,896.2 570,897.5 563.8,885 566.2,876.2" stroke-width="3.3"/>
<path d="M500,595 493.8,600 490,615" stroke-width="3.3"/>
<path d="M522.5,702.5 525,710" stroke-width="3.3"/>
<path d="M458.8,730 463.8,730 463.8,740" stroke-width="3.3"/>
<path d="M475,765 477.5,772.5" stroke-width="3.3"/>
<path d="M412.5,700 410,710 415,722.5" stroke-width="3.3"/>
<path d="M295,720 305,720 313.8,725 313.8,737.5 306.2,736.2" stroke-width="3.3"/>
<path d="M266.2,742.5 262.5,755 257.5,758.8" stroke-width="3.3"/>
<path d="M395,725 398,735" stroke-width="3.3"/>
<path d="M360,557.5 363.8,567.5" stroke-width="3.3"/>
<path d="M780,527.5 786.2,512.5 793.8,503.8 803.8,503 810,508 811.2,525 810,530.5" stroke-width="2.6"/>
<path d="M777.5,525 782.5,507.5 792.5,498.8 805,498 813.8,503.8 815.5,515 815,527.5" stroke-width="1.6"/>
<path d="M607.5,1150 613.8,1153.8 615,1160 607.5,1162.5 601.2,1158.8 602.5,1152.5 607.5,1150" stroke-width="3"/>
<path d="M681.2,1237.5 689.5,1237.5" stroke-width="5"/>
<path d="M523.8,982 528.8,982" stroke-width="5"/>
<path d="M755,1162.5 755,1170" stroke-width="3"/>
<path d="M772.5,1167.5 782.5,1157.5 795,1160 802.5,1172.5 800,1187.5 792.5,1196.2 782.5,1195 775,1182.5 772.5,1167.5" stroke-width="3.4"/>
<path d="M797.5,1220 805,1205 820,1201.2 832.5,1207.5 836.2,1222.5 830,1240 820,1247.5 807.5,1242.5 798.8,1232.5 797.5,1220" stroke-width="3.6"/>
<path d="M1060,1353.3 1063.3,1348.3 1068.3,1351.7 1069.2,1355.8 1065,1359.2 1060.8,1357.5 1060,1353.3" stroke-width="2.6"/>
<path d="M1420,372.5 1462.5,372.5" stroke-width="2.4"/>
<path d="M1402.5,440 1402.5,450 1457.5,450 1457.5,425" stroke-width="2.4"/>
<path d="M1200,710 1225,710" stroke-width="2.4"/>
<path d="M1202.5,711.2 1202.5,736.2" stroke-width="1.6"/>
<path d="M1235,602.5 1234.5,650" stroke-width="2.4"/>
<path d="M1236.2,600 1235,625 1236.2,650 1237.5,670" stroke-width="2.4"/>
<path d="M833.3,602.7 844.4,604.4 853.3,600" stroke-width="2.4"/>
<path d="M882.2,612.2 894.4,608.9" stroke-width="2.4"/>
<path d="M527.5,1285 540,1275 555,1277.5 570,1285 577.5,1300 577.5,1325 572.5,1342.5 562.5,1347.5 552.5,1340 542.5,1325 532.5,1310 527.5,1297.5 527.5,1285" stroke-width="3.6"/>
<path d="M606.2,1300 612.5,1290 630,1285 642.5,1275 650,1267.5 655,1272.5 653.8,1295 656.2,1312.5 650,1325 635,1331.2 620,1331.2 608.8,1322.5 606.2,1300" stroke-width="3.6"/>
<path d="M592.5,1320 597.5,1317.5 600,1325 593.8,1325 592.5,1320" stroke-width="1.6"/>
<path d="M337.5,1270 345,1280 355,1292.5 356.2,1302.5 345,1310 335,1317.5 327.5,1323.8 320,1322.5 316.2,1315 318.8,1305 327.5,1300 335,1295 337.5,1282.5 337.5,1270" stroke-width="3.4"/>
<path d="M475,1270 476.2,1285 480,1300 492.5,1312.5 505,1320 510,1332.5 510,1350 502.5,1362.5 495,1372.5 495,1378.8 502.5,1378.8 510,1372.5 515,1382.5 522.5,1390 535,1391.2 538.8,1397.5 527.5,1405 520,1415 518.8,1430 522.5,1442.5 523.8,1455 517.5,1462.5 505,1470 495,1477.5 491.2,1490 490,1507.5 485,1522.5 477.5,1540" stroke-width="3.6"/>
<path d="M410,1552.5 408.8,1540 415,1532.5 425,1530 435,1535 441.2,1542.5" stroke-width="3.4"/>
<path d="M276.2,1437.5 285,1440 292.5,1445 292.5,1467.5 282.5,1473.8 280,1465 272.5,1463.8 276.2,1450 276.2,1437.5" stroke-width="3"/>
<path d="M480,1343 488.8,1343" stroke-width="3"/>
<path d="M557.5,1455 563.8,1451.2 568.8,1465 562.5,1471.2 557.5,1455" stroke-width="2.6"/>
<path d="M305,1291.2 306.5,1291.2" stroke-width="4"/>
<path d="M655,1425 662.5,1430 677.5,1423.8" stroke-width="2.6"/>
<path d="M397.5,1582.5 405,1592.5 415,1597.5" stroke-width="3"/>
<path d="M691.2,1537.5 695,1540.5 701.2,1539.5" stroke-width="4"/>
<path d="M565,1600 570,1590 580,1585 583.8,1570 582.5,1560" stroke-width="3.4"/>
<path d="M777.5,1532.5 790,1542.5 802.5,1555 815,1542.5 825,1537.5" stroke-width="3.6"/>
<path d="M842.5,1536.2 850,1537.5 855,1547.5 865,1555 877.5,1561.2 890,1555 902.5,1548.8 912.5,1547.5" stroke-width="3.6"/>
<path d="M905,1582.5 900,1595 897.5,1600" stroke-width="3.6"/>
<path d="M842.5,1376.2 850,1390 862.5,1400 875,1410" stroke-width="2.4"/>
<path d="M972.5,1488.7 977.5,1510" stroke-width="2"/>
<path d="M1008.3,1494.2 1026.7,1495 1023.3,1533.3" stroke-width="2.4"/>
<path d="M984.2,1487.5 992.5,1488.7" stroke-width="5"/>
<path d="M1373.8,1391.2 1380,1390.5 1379.5,1394.5 1374.5,1395 1373.8,1391.2" stroke-width="2.2"/>
<path d="M1390,1510 1400,1506.2 1401.2,1510 1392.5,1513 1390,1510" stroke-width="2.2"/>
<path d="M1342.5,1455 1347.5,1456.2 1348.8,1462.5 1343.8,1461.2 1342.5,1455" stroke-width="2.2"/>
<path d="M1337,1506.2 1340,1507.5 1339.5,1511.2 1337,1506.2" stroke-width="2.2"/>
<path d="M1338.8,1516.2 1342,1517.5 1340.5,1521.2 1338.8,1516.2" stroke-width="2.2"/>
<path d="M1362.5,1528.8 1367.5,1527.5 1367,1532.5 1363,1533 1362.5,1528.8" stroke-width="2.2"/>
<path d="M1370,1526.2 1376.2,1525 1378,1532.5 1371.2,1533.8 1370,1526.2" stroke-width="2.2"/>
<path d="M1418.8,1530 1422.5,1531.2 1421.2,1535 1418.8,1530" stroke-width="2.2"/>
<path d="M1360,1415 1365,1414.5 1364.5,1418.8 1360,1415" stroke-width="2.2"/>
</g>
<text class="c" x="326" y="822">IRELAND</text>
<text class="e" x="546" y="854">England</text>
<text class="c" x="352" y="277">FAROE IS.</text>
<text class="c" x="866" y="402">NORWAY</text>
<text class="c" x="1025" y="429">SWEDEN</text>
<text class="c" x="866" y="646">DEN.</text>
<text class="c" x="1343" y="353">FINLAND</text>
<text class="c" x="1385" y="499">ESTONIA</text>
<text class="c" x="1381" y="604">LATVIA</text>
<text class="s" x="1164" y="637">Baltic</text>
<text class="s" x="1164" y="666">Sea</text>
<text class="s" x="692" y="662">North</text>
<text class="s" x="692" y="691">Sea</text>
<text class="c" x="764" y="866">NETH.</text>
<text class="c" x="908" y="894">GERMANY</text>
<text class="c" x="711" y="931">BEL.</text>
<text class="c" x="1037" y="976">CZECHIA</text>
<text class="c" x="1334" y="688">LITHUANIA</text>
<text class="e" x="1252" y="729">Kal.</text>
<text class="c" x="1479" y="785.5">BELARUS</text>
<text class="c" x="1190" y="865.5">POLAND</text>
<text class="c" x="1206" y="1025">SLOVAK.</text>
<text class="c l" x="1514" y="1016">UKRAINE</text>
<text class="c" x="637.5" y="1095.5">FRANCE</text>
<text class="c" x="830" y="1122.5">SWITZ.</text>
<text class="c" x="465" y="1400">SPAIN</text>
<text class="c" x="314" y="1447.5">PORT.</text>
<text class="s" x="324" y="1084">ATLANTIC</text>
<text class="s" x="324" y="1113">OCEAN</text>
<text class="s" x="735.5" y="1497">Mediterranean Sea</text>
<text class="c" x="968" y="1301">ITALY</text>
<text class="c" x="1025.6" y="1584">MALTA</text>
<text class="c" x="1037.5" y="1090">AUS.</text>
<text class="c" x="1032.5" y="1157">SLOV.</text>
<text class="c" x="1102.5" y="1181">CRO.</text>
<text class="c" x="1129" y="1222">BOSNIA</text>
<text class="c" x="1183" y="1109.5">HUNG.</text>
<text class="c" x="1357.5" y="1172.5">ROMANIA</text>
<text class="c" x="1229" y="1276">SERBIA</text>
<text class="c" x="1367" y="1301">BULG.</text>
<text class="c" x="1255" y="1352.5">MACE.</text>
<text class="c" x="1202.5" y="1386">ALB.</text>
<text class="c" x="1464" y="1080.5">MOL.</text>
<text class="c" x="1265" y="1449">GREECE</text>
<text class="s l" x="1586" y="1246">Black</text>
<text class="d l" x="1535" y="462.2">Northwestern</text>
<text class="d l" x="1551" y="492.1">District</text>
</g>
<rect x="200" y="200" width="1400" height="1400" fill="none" stroke="#000" stroke-width="2.5"/>
<text class="t" x="900" y="49.5">EUROPE</text>
<text class="t" x="900" y="109.5">Temperature Anomaly (C)</text>
<text class="t" x="900" y="169.5">February 25 - March 2, 2024</text>
<rect x="1618.5" y="253.5" width="38" height="143" rx="2" fill="#ff0000" stroke="#555" stroke-width="1"/>
<rect x="1618.5" y="403.5" width="38" height="143" rx="2" fill="#ff5555" stroke="#555" stroke-width="1"/>
<rect x="1618.5" y="553.5" width="38" height="143" rx="2" fill="#ffaaaa" stroke="#555" stroke-width="1"/>
<rect x="1618.5" y="703.5" width="38" height="143" rx="2" fill="#ffd9d9" stroke="#555" stroke-width="1"/>
<rect x="1618.5" y="853.5" width="38" height="143" rx="2" fill="#ffffff" stroke="#555" stroke-width="1"/>
<rect x="1618.5" y="1003.5" width="38" height="143" rx="2" fill="#ccffff" stroke="#555" stroke-width="1"/>
<rect x="1618.5" y="1153.5" width="38" height="143" rx="2" fill="#66ffff" stroke="#555" stroke-width="1"/>
<rect x="1618.5" y="1303.5" width="38" height="143" rx="2" fill="#55aaff" stroke="#555" stroke-width="1"/>
<rect x="1618.5" y="1453.5" width="38" height="143" rx="2" fill="#007fff" stroke="#555" stroke-width="1"/>
<text class="lg" x="1675.5" y="415">+7</text>
<text class="lg" x="1675.5" y="565">+5</text>
<text class="lg" x="1675.5" y="715">+3</text>
<text class="lg" x="1675.5" y="865">+1</text>
<text class="lg" x="1683" y="1015">-1</text>
<text class="lg" x="1683" y="1165">-3</text>
<text class="lg" x="1683" y="1315">-5</text>
<text class="lg" x="1683" y="1465">-7</text>
<text class="f" x="1180" y="1659.7">CLIMATE PREDICTION CENTER, NOAA</text>
<text class="f" x="1180" y="1685.7">Computer generated contours</text>
<text class="f" x="1180" y="1711.5">Based on preliminary data</text>
<g>
<circle cx="1699.6" cy="1700" r="80.3" fill="#0085ca"/>
<path d="M1633.2,1654.2 L1622.3,1678 C1637.5,1684.9 1655.6,1704.7 1682.6,1724.6 L1673.6,1728.9 C1680.8,1733.6 1691.7,1732.9 1698.9,1730.7 C1707.9,1726.4 1720.6,1719.2 1735,1717.4 L1730,1714.1 L1717.7,1717 C1735,1708.3 1758.5,1688.5 1773.3,1665 L1764.6,1652.7 L1699.6,1708.3Z" fill="#fff"/>
<path d="M1634.6,1653.4 A80.3,80.3 0 0 1 1763.9,1653.4 C1749.5,1672.2 1735,1694.6 1718.8,1708.3 C1709.7,1714.8 1704.3,1716.6 1698.9,1715.6 C1688.1,1712.7 1673.6,1699.3 1661,1681.3 C1650.1,1666.8 1641.8,1658.5 1634.6,1653.4Z" fill="#003087"/>
<text class="n" x="1699.6" y="1671.2" textLength="65" lengthAdjust="spacingAndGlyphs">NOAA</text>
</g>
</svg></body></html>
